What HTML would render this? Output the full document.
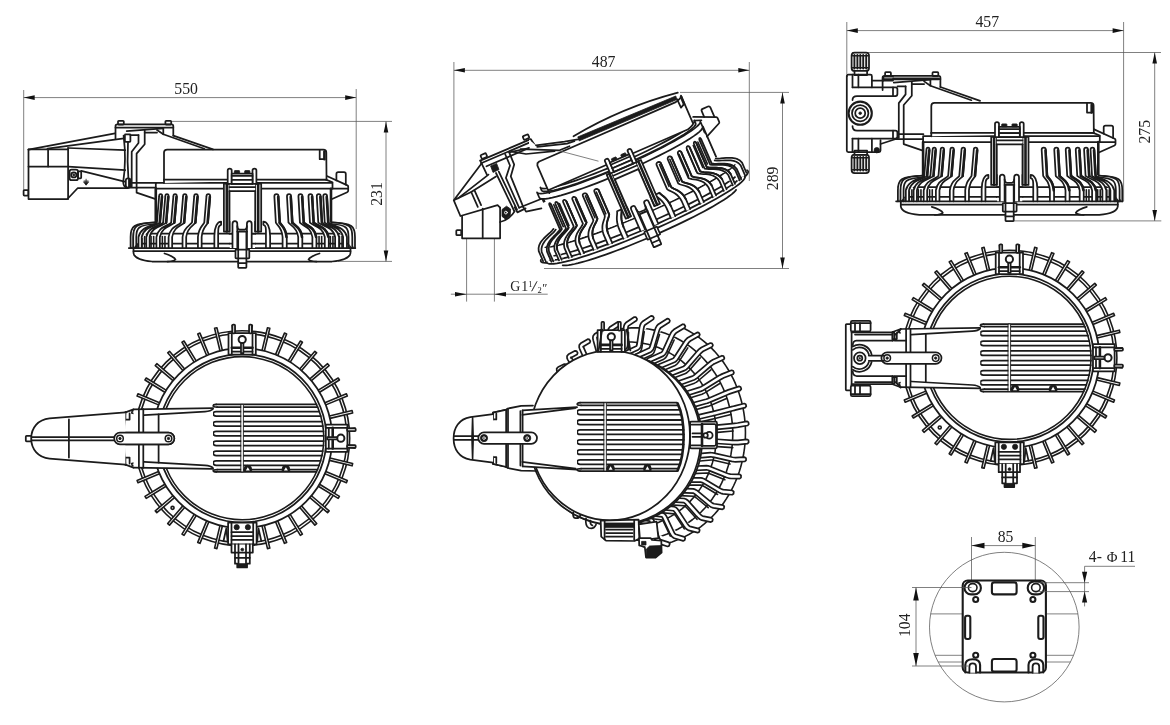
<!DOCTYPE html>
<html><head><meta charset="utf-8"><title>Dimensions</title>
<style>
html,body{margin:0;padding:0;background:#fff;}
body{width:1170px;height:725px;overflow:hidden;font-family:"Liberation Serif",serif;}
svg{display:block;will-change:transform}
.m{stroke:#1b1b1b;stroke-width:1.75;fill:none;stroke-linecap:round;stroke-linejoin:round}
.w{stroke:#1b1b1b;stroke-width:1.75;fill:#fff;stroke-linecap:round;stroke-linejoin:round}
.k{stroke:#1b1b1b;stroke-width:2.6;fill:none;stroke-linecap:round;stroke-linejoin:round}
.b{stroke:#1b1b1b;stroke-width:0.8;fill:#1b1b1b}
.t{stroke:#555;stroke-width:0.75;fill:none}
.s{stroke:#1b1b1b;stroke-width:1.6;fill:none;stroke-linecap:round;stroke-linejoin:round}
.sw{stroke:#1b1b1b;stroke-width:1.6;fill:#fff;stroke-linecap:round;stroke-linejoin:round}
text{font-family:"Liberation Serif",serif;fill:#222}
</style></head><body>
<svg width="1170" height="725" viewBox="0 0 1170 725">
<rect x="0" y="0" width="1170" height="725" fill="#fff"/>
<path class="t" d="M23.7,90 L23.7,191"/>
<path class="t" d="M356.2,89 L356.2,229"/>
<path class="t" d="M23.7,97.6 L356.2,97.6"/>
<path d="M23.7,97.6 L34.7,95.3 L34.7,99.9 Z" fill="#111" stroke="none"/>
<path d="M356.2,97.6 L345.2,99.9 L345.2,95.3 Z" fill="#111" stroke="none"/>
<text transform="translate(186.14 94) scale(0.95 1)" font-size="16.6" text-anchor="middle" fill="#3d3d3d">550</text>
<path class="t" d="M171,121.4 L392,121.4"/>
<path class="t" d="M338,261.4 L392,261.4"/>
<path class="t" d="M386,121.4 L386,261.5"/>
<path d="M386,121.4 L388.3,132.4 L383.7,132.4 Z" fill="#111" stroke="none"/>
<path d="M386,261.5 L383.7,250.5 L388.3,250.5 Z" fill="#111" stroke="none"/>
<text transform="translate(382.2 193.97) rotate(-90) scale(0.95 1)" font-size="16.6" text-anchor="middle" fill="#3d3d3d">231</text>
<path class="w" d="M133.5,248 V253 C134,257 140,260.5 152,261.5 H332 C344,260.5 350,257 350.5,253 V248" />
<path class="m" d="M133.5,251.2 L350.5,251.2"/>
<path class="m" d="M164.5,253.5 C170,255 175,258 175.5,259.5 C174,261 170,261.5 167.5,261.5" />
<path class="m" d="M319.5,253.5 C314,255 309,258 308.5,259.5 C310,261 314,261.5 316.5,261.5" />
<rect class="w" x="131" y="233.7" width="222.6" height="14.6" rx="0" style="stroke:none" />
<path class="m" d="M131,233.7 L353.6,233.7"/>
<path class="m" d="M134,243.6 L352,243.6"/>
<path class="s" d="M131.26,236.5 L131.26,248"/>
<path class="s" d="M133.86,236.5 L133.86,248"/>
<path class="s" d="M350.14,236.5 L350.14,248"/>
<path class="s" d="M352.74,236.5 L352.74,248"/>
<path class="s" d="M135.32,236.5 L135.32,248"/>
<path class="s" d="M137.92,236.5 L137.92,248"/>
<path class="s" d="M346.08,236.5 L346.08,248"/>
<path class="s" d="M348.68,236.5 L348.68,248"/>
<path class="s" d="M141.98,236.5 L141.98,248"/>
<path class="s" d="M144.58,236.5 L144.58,248"/>
<path class="s" d="M339.42,236.5 L339.42,248"/>
<path class="s" d="M342.02,236.5 L342.02,248"/>
<path class="s" d="M151.06,236.5 L151.06,248"/>
<path class="s" d="M153.66,236.5 L153.66,248"/>
<path class="s" d="M330.34,236.5 L330.34,248"/>
<path class="s" d="M332.94,236.5 L332.94,248"/>
<path class="s" d="M162.35,236.5 L162.35,248"/>
<path class="s" d="M164.95,236.5 L164.95,248"/>
<path class="s" d="M319.05,236.5 L319.05,248"/>
<path class="s" d="M321.65,236.5 L321.65,248"/>
<path class="w" d="M130.6,248 V237 C130.6,226.7 132.66,222.9 156.3,222.3" />
<path class="m" d="M133.48,248 V237 C133.48,228.4 135.3,224.6 156.3,224" />
<path class="w" d="M354.98,248 V237 C354.98,226.7 353.06,222.9 331,222.3" />
<path class="m" d="M351.33,248 V237 C351.33,228.4 349.71,224.6 331,224" />
<path class="w" d="M133.23,248 V237 C133.23,226.7 135.08,222.9 156.3,222.3" />
<path class="m" d="M136.26,248 V237 C136.26,228.4 137.87,224.6 156.3,224" />
<path class="w" d="M352.29,248 V237 C352.29,226.7 350.59,222.9 331,222.3" />
<path class="m" d="M348.55,248 V237 C348.55,228.4 347.15,224.6 331,224" />
<rect class="w" x="156.3" y="188.7" width="174.5" height="33.5" rx="0" style="stroke:none" />
<path class="w" d="M138.5,248 L138.5,237 C140.56,226.8 152.2,226.2 156.91,222.6 L159.11,196.4 Q159.11,194.2 160.7,194.2 Q162.29,194.2 162.29,196.4 L160.09,222.6 C155.38,226.2 143.75,226.8 141.69,237 L141.69,248" />
<path class="k" d="M161.94,196.9 L159.74,222.6" />
<path class="w" d="M343.1,248 L343.1,237 C341.11,226.8 329.4,226.2 324.73,222.6 L323.23,196.4 Q323.23,194.2 325.15,194.2 Q327.06,194.2 327.06,196.4 L328.56,222.6 C333.23,226.2 344.94,226.8 346.93,237 L346.93,248" />
<path class="k" d="M326.71,196.9 L328.21,222.6" />
<path class="w" d="M146.29,248 L146.29,237 C148.19,226.8 158.79,226.2 163.11,222.6 L165.31,196.4 Q165.31,194.2 166.97,194.2 Q168.63,194.2 168.63,196.4 L166.43,222.6 C162.12,226.2 151.52,226.8 149.62,237 L149.62,248" />
<path class="k" d="M168.28,196.9 L166.08,222.6" />
<path class="w" d="M335.11,248 L335.11,237 C333.28,226.8 322.56,226.2 318.28,222.6 L316.78,196.4 Q316.78,194.2 318.74,194.2 Q320.69,194.2 320.69,196.4 L322.19,222.6 C326.48,226.2 337.19,226.8 339.03,237 L339.03,248" />
<path class="k" d="M320.34,196.9 L321.84,222.6" />
<path class="w" d="M156.4,248 L156.4,237 C158.1,226.8 167.36,226.2 171.16,222.6 L173.36,196.4 Q173.36,194.2 175.08,194.2 Q176.81,194.2 176.81,196.4 L174.61,222.6 C170.81,226.2 161.55,226.8 159.85,237 L159.85,248" />
<path class="k" d="M176.46,196.9 L174.26,222.6" />
<path class="w" d="M324.79,248 L324.79,237 C323.16,226.8 313.73,226.2 309.94,222.6 L308.44,196.4 Q308.44,194.2 310.44,194.2 Q312.43,194.2 312.43,196.4 L313.93,222.6 C317.72,226.2 327.15,226.8 328.78,237 L328.78,248" />
<path class="k" d="M312.08,196.9 L313.58,222.6" />
<path class="k" d="M313.63,222.6 C317.42,226.2 326.85,226.8 328.48,237" />
<path class="w" d="M168.59,248 L168.59,237 C170.03,226.8 177.69,226.2 180.87,222.6 L183.07,196.4 Q183.07,194.2 184.85,194.2 Q186.63,194.2 186.63,196.4 L184.43,222.6 C181.25,226.2 173.59,226.8 172.15,237 L172.15,248" />
<path class="k" d="M186.28,196.9 L184.08,222.6" />
<path class="w" d="M312.39,248 L312.39,237 C310.99,226.8 303.11,226.2 299.92,222.6 L298.42,196.4 Q298.42,194.2 300.45,194.2 Q302.48,194.2 302.48,196.4 L303.98,222.6 C307.17,226.2 315.05,226.8 316.44,237 L316.44,248" />
<path class="k" d="M302.13,196.9 L303.63,222.6" />
<path class="k" d="M303.68,222.6 C306.87,226.2 314.75,226.8 316.14,237" />
<path class="w" d="M182.54,248 L182.54,237 C183.71,226.8 189.52,226.2 191.99,222.6 L194.19,196.4 Q194.19,194.2 196.02,194.2 Q197.85,194.2 197.85,196.4 L195.65,222.6 C193.17,226.2 187.36,226.8 186.19,237 L186.19,248" />
<path class="k" d="M197.5,196.9 L195.3,222.6" />
<path class="w" d="M298.2,248 L298.2,237 C297.08,226.8 290.98,226.2 288.47,222.6 L286.97,196.4 Q286.97,194.2 289.02,194.2 Q291.08,194.2 291.08,196.4 L292.58,222.6 C295.09,226.2 301.19,226.8 302.31,237 L302.31,248" />
<path class="k" d="M290.73,196.9 L292.23,222.6" />
<path class="k" d="M292.28,222.6 C294.79,226.2 300.89,226.8 302.01,237" />
<path class="w" d="M197.93,248 L197.93,237 C198.78,226.8 202.57,226.2 204.26,222.6 L206.46,196.4 Q206.46,194.2 208.32,194.2 Q210.19,194.2 210.19,196.4 L207.99,222.6 C206.29,226.2 202.51,226.8 201.65,237 L201.65,248" />
<path class="k" d="M209.84,196.9 L207.64,222.6" />
<path class="w" d="M282.59,248 L282.59,237 C281.77,226.8 277.62,226.2 275.86,222.6 L274.36,196.4 Q274.36,194.2 276.44,194.2 Q278.52,194.2 278.52,196.4 L280.02,222.6 C281.78,226.2 285.92,226.8 286.75,237 L286.75,248" />
<path class="k" d="M278.17,196.9 L279.67,222.6" />
<path class="k" d="M279.72,222.6 C281.48,226.2 285.62,226.8 286.45,237" />
<path class="w" d="M214.36,248 V236 C214.36,227 217.36,221.6 221.11,221.6 V224.8 C218.11,225.4 218.14,229 218.14,236 V248" />
<path class="w" d="M270.12,248 V236 C270.12,227 267.12,221.6 263.36,221.6 V224.8 C266.36,225.4 265.94,229 265.94,236 V248" />
<path class="m" d="M128.8,248 L355.3,248"/>
<path class="m" d="M155.8,220 V182.8 H332.5 V188.7" />
<path class="m" d="M164,179.6 L326,179.6"/>
<path class="m" d="M156.3,188.7 L347.4,188.7"/>
<path class="k" d="M331,188.7 V221" />
<path class="k" d="M155.8,188.7 V221.6" />
<path class="m" d="M326.3,175.8 L347.4,185.4 Q348.2,185.8 348.2,186.8 V190.8 Q348.2,191.8 347.2,192.2 L331,199.5" />
<path class="m" d="M336.4,180.4 V174 Q336.4,172.2 338.2,172.2 H344 Q345.8,172.2 345.8,174 V184.6" />
<path class="m" d="M325.9,179.6 L332.5,182.2" />
<path class="w" d="M164,183 V152.6 Q164,149.5 167.2,149.5 H323.4 Q326.3,149.5 326.3,152.4 L326.5,175.8 V179.6" />
<path class="m" d="M319.7,149.8 V159.2 H324.4" />
<path class="k" d="M324.4,151.5 V159.2" />
<path class="m" d="M164,179.6 L326.4,179.6"/>
<rect class="w" x="223.9" y="183.6" width="5.6" height="48" rx="0" />
<rect class="w" x="255.2" y="183.6" width="6" height="48" rx="0" />
<path class="k" d="M226.8,184 V231.4" />
<path class="k" d="M258.2,184 V231.4" />
<rect class="w" x="229.5" y="183" width="25.7" height="38" rx="0" style="stroke:none" />
<path class="m" d="M229.5,187 L255.2,187"/>
<path class="m" d="M229.5,191 L255.2,191"/>
<path class="m" d="M229.5,191 L229.5,231.4"/>
<path class="m" d="M255.2,191 L255.2,231.4"/>
<path class="w" d="M227.7,183.8 V170.4 Q227.7,168.7 229.7,168.7 Q231.7,168.7 231.7,170.4 V183.8" />
<path class="w" d="M252.5,183.8 V170.4 Q252.5,168.7 254.5,168.7 Q256.4,168.7 256.4,170.4 V183.8" />
<rect class="w" x="231.7" y="173.5" width="20.8" height="6.3" rx="0" />
<rect class="w" x="231.7" y="179.8" width="20.8" height="4" rx="0" />
<path class="m" d="M231.7,175.9 L252.5,175.9"/>
<rect class="b" x="234.4" y="170.6" width="5.2" height="2.9" rx="0.5" />
<rect class="b" x="244.7" y="170.6" width="5.2" height="2.9" rx="0.5" />
<path class="m" d="M227.7,183.8 L256.4,183.8"/>
<rect class="w" x="229.8" y="233.7" width="25.2" height="14.3" rx="0" style="stroke:none" />
<path class="m" d="M229.5,233.8 L255.2,233.8"/>
<path class="m" d="M229.5,243.6 L255.2,243.6"/>
<path class="w" d="M232.5,247.5 V224 Q232.5,221.2 234.9,221.2 Q237.3,221.2 237.3,224 V247.5" />
<path class="w" d="M246.9,247.5 V224 Q246.9,221.2 249.3,221.2 Q251.7,221.2 251.7,224 V247.5" />
<path class="m" d="M237.3,226 Q237.5,229.4 239.5,229.6 H244.7 Q246.7,229.4 246.9,226" />
<path class="m" d="M237.3,231.6 H247" />
<rect class="w" x="238.2" y="231.6" width="8.2" height="36.2" rx="0.6" />
<rect class="w" x="235.5" y="249.7" width="13.8" height="8.6" rx="0.6" />
<path class="m" d="M238.2,249.7 L238.2,258.3"/>
<path class="m" d="M246.4,249.7 L246.4,258.3"/>
<path class="m" d="M238.2,263 L246.4,263"/>
<path class="m" d="M28.5,149.6 V199 H67.4 L77.8,188 H128" />
<path class="m" d="M28.5,149.6 L115,133.4" />
<path class="m" d="M47.5,148.6 L124,138.4" />
<path class="m" d="M28.5,149.4 H68.1" />
<path class="m" d="M68.1,148 L125.2,150.2" />
<path class="m" d="M48.1,149.4 L48.1,166.6"/>
<path class="m" d="M68.1,148 L68.1,199"/>
<path class="m" d="M28.5,166.6 H68.1 L125.2,170.2" />
<path class="m" d="M81.2,170.9 L124.6,181.6" />
<rect class="w" x="23.6" y="190" width="4.6" height="5.6" rx="0.8" />
<rect class="m" x="69.6" y="169.6" width="8.4" height="10.6" rx="2" />
<rect class="m" x="78" y="171.4" width="3.2" height="7" rx="0.8" />
<circle class="m" cx="73.8" cy="174.9" r="2.6" />
<circle class="b" cx="73.8" cy="174.9" r="1" />
<path class="m" d="M86.1,179.2 V184.4 M83.8,182.2 L86.1,185.2 L88.4,182.2 Z M84,181 H88.2" style="fill:#1b1b1b;stroke-width:0.8" />
<rect class="w" x="118" y="120.8" width="5.8" height="3.8" rx="0.8" />
<rect class="w" x="165.4" y="120.8" width="5.8" height="3.8" rx="0.8" />
<path class="m" d="M115.5,138.6 V126.2 Q115.5,124.4 117.3,124.4 H171.5 Q173.3,124.4 173.3,126.2 V135.6" />
<path class="m" d="M115.5,127.6 L173.3,127.6"/>
<path class="m" d="M126.7,131.2 L163.3,128.3" />
<path class="m" d="M157,130 L163.3,134.3" />
<path class="m" d="M163.3,128.3 V134.3 L204.3,148.8" />
<path class="m" d="M173.3,135.6 L213,149.4" />
<rect class="m" x="124.9" y="134.3" width="5.5" height="7.5" rx="0.6" />
<path class="m" d="M123.6,135.6 Q126.6,160 123.2,182 Q123.4,186.6 126.4,187.6" />
<path class="m" d="M128,141.8 L127.6,161.6 L128.4,178.4" />
<rect class="m" x="125.8" y="178.4" width="4.6" height="9.2" rx="2.2" />
<path class="k" d="M129.4,179.6 V186.6" />
<path class="m" d="M138.5,135 V143 L131.7,151.7 V186.5" />
<path class="m" d="M144.7,130.6 V144.3 L136.6,153.6 V188" />
<path class="m" d="M130.4,135 H138.5" />
<path class="m" d="M144.7,132.6 H157" />
<path class="m" d="M131.7,182.8 H156.3" />
<path class="m" d="M128,187.7 H155.6" />
<path class="m" d="M136.6,188 V192.7 L155,198.9" />
<path class="t" d="M846.8,22 L846.8,74"/>
<path class="t" d="M1123.6,22 L1123.6,201"/>
<path class="t" d="M846.8,30.6 L1123.6,30.6"/>
<path d="M846.8,30.6 L857.8,28.3 L857.8,32.9 Z" fill="#111" stroke="none"/>
<path d="M1123.6,30.6 L1112.6,32.9 L1112.6,28.3 Z" fill="#111" stroke="none"/>
<text transform="translate(987.27 26.5) scale(0.95 1)" font-size="16.6" text-anchor="middle" fill="#3d3d3d">457</text>
<path class="t" d="M852,52.5 L1161,52.5"/>
<path class="t" d="M1013,220.9 L1161.3,220.9"/>
<path class="t" d="M1154.7,52.5 L1154.7,220.9"/>
<path d="M1154.7,52.5 L1157,63.5 L1152.4,63.5 Z" fill="#111" stroke="none"/>
<path d="M1154.7,220.9 L1152.4,209.9 L1157,209.9 Z" fill="#111" stroke="none"/>
<text transform="translate(1150.1 131.74) rotate(-90) scale(0.95 1)" font-size="16.6" text-anchor="middle" fill="#3d3d3d">275</text>
<g transform="translate(767.3 -46.7)">
<path class="w" d="M133.5,248 V253 C134,257 140,260.5 152,261.5 H332 C344,260.5 350,257 350.5,253 V248" />
<path class="m" d="M133.5,251.2 L350.5,251.2"/>
<path class="m" d="M164.5,253.5 C170,255 175,258 175.5,259.5 C174,261 170,261.5 167.5,261.5" />
<path class="m" d="M319.5,253.5 C314,255 309,258 308.5,259.5 C310,261 314,261.5 316.5,261.5" />
<rect class="w" x="131" y="233.7" width="222.6" height="14.6" rx="0" style="stroke:none" />
<path class="m" d="M131,233.7 L353.6,233.7"/>
<path class="m" d="M134,243.6 L352,243.6"/>
<path class="s" d="M131.26,236.5 L131.26,248"/>
<path class="s" d="M133.86,236.5 L133.86,248"/>
<path class="s" d="M350.14,236.5 L350.14,248"/>
<path class="s" d="M352.74,236.5 L352.74,248"/>
<path class="s" d="M135.32,236.5 L135.32,248"/>
<path class="s" d="M137.92,236.5 L137.92,248"/>
<path class="s" d="M346.08,236.5 L346.08,248"/>
<path class="s" d="M348.68,236.5 L348.68,248"/>
<path class="s" d="M141.98,236.5 L141.98,248"/>
<path class="s" d="M144.58,236.5 L144.58,248"/>
<path class="s" d="M339.42,236.5 L339.42,248"/>
<path class="s" d="M342.02,236.5 L342.02,248"/>
<path class="s" d="M151.06,236.5 L151.06,248"/>
<path class="s" d="M153.66,236.5 L153.66,248"/>
<path class="s" d="M330.34,236.5 L330.34,248"/>
<path class="s" d="M332.94,236.5 L332.94,248"/>
<path class="s" d="M162.35,236.5 L162.35,248"/>
<path class="s" d="M164.95,236.5 L164.95,248"/>
<path class="s" d="M319.05,236.5 L319.05,248"/>
<path class="s" d="M321.65,236.5 L321.65,248"/>
<path class="w" d="M130.6,248 V237 C130.6,226.7 132.66,222.9 156.3,222.3" />
<path class="m" d="M133.48,248 V237 C133.48,228.4 135.3,224.6 156.3,224" />
<path class="w" d="M354.98,248 V237 C354.98,226.7 353.06,222.9 331,222.3" />
<path class="m" d="M351.33,248 V237 C351.33,228.4 349.71,224.6 331,224" />
<path class="w" d="M133.23,248 V237 C133.23,226.7 135.08,222.9 156.3,222.3" />
<path class="m" d="M136.26,248 V237 C136.26,228.4 137.87,224.6 156.3,224" />
<path class="w" d="M352.29,248 V237 C352.29,226.7 350.59,222.9 331,222.3" />
<path class="m" d="M348.55,248 V237 C348.55,228.4 347.15,224.6 331,224" />
<rect class="w" x="156.3" y="188.7" width="174.5" height="33.5" rx="0" style="stroke:none" />
<path class="w" d="M138.5,248 L138.5,237 C140.56,226.8 152.2,226.2 156.91,222.6 L159.11,196.4 Q159.11,194.2 160.7,194.2 Q162.29,194.2 162.29,196.4 L160.09,222.6 C155.38,226.2 143.75,226.8 141.69,237 L141.69,248" />
<path class="k" d="M161.94,196.9 L159.74,222.6" />
<path class="w" d="M343.1,248 L343.1,237 C341.11,226.8 329.4,226.2 324.73,222.6 L323.23,196.4 Q323.23,194.2 325.15,194.2 Q327.06,194.2 327.06,196.4 L328.56,222.6 C333.23,226.2 344.94,226.8 346.93,237 L346.93,248" />
<path class="k" d="M326.71,196.9 L328.21,222.6" />
<path class="w" d="M146.29,248 L146.29,237 C148.19,226.8 158.79,226.2 163.11,222.6 L165.31,196.4 Q165.31,194.2 166.97,194.2 Q168.63,194.2 168.63,196.4 L166.43,222.6 C162.12,226.2 151.52,226.8 149.62,237 L149.62,248" />
<path class="k" d="M168.28,196.9 L166.08,222.6" />
<path class="w" d="M335.11,248 L335.11,237 C333.28,226.8 322.56,226.2 318.28,222.6 L316.78,196.4 Q316.78,194.2 318.74,194.2 Q320.69,194.2 320.69,196.4 L322.19,222.6 C326.48,226.2 337.19,226.8 339.03,237 L339.03,248" />
<path class="k" d="M320.34,196.9 L321.84,222.6" />
<path class="w" d="M156.4,248 L156.4,237 C158.1,226.8 167.36,226.2 171.16,222.6 L173.36,196.4 Q173.36,194.2 175.08,194.2 Q176.81,194.2 176.81,196.4 L174.61,222.6 C170.81,226.2 161.55,226.8 159.85,237 L159.85,248" />
<path class="k" d="M176.46,196.9 L174.26,222.6" />
<path class="w" d="M324.79,248 L324.79,237 C323.16,226.8 313.73,226.2 309.94,222.6 L308.44,196.4 Q308.44,194.2 310.44,194.2 Q312.43,194.2 312.43,196.4 L313.93,222.6 C317.72,226.2 327.15,226.8 328.78,237 L328.78,248" />
<path class="k" d="M312.08,196.9 L313.58,222.6" />
<path class="k" d="M313.63,222.6 C317.42,226.2 326.85,226.8 328.48,237" />
<path class="w" d="M168.59,248 L168.59,237 C170.03,226.8 177.69,226.2 180.87,222.6 L183.07,196.4 Q183.07,194.2 184.85,194.2 Q186.63,194.2 186.63,196.4 L184.43,222.6 C181.25,226.2 173.59,226.8 172.15,237 L172.15,248" />
<path class="k" d="M186.28,196.9 L184.08,222.6" />
<path class="w" d="M312.39,248 L312.39,237 C310.99,226.8 303.11,226.2 299.92,222.6 L298.42,196.4 Q298.42,194.2 300.45,194.2 Q302.48,194.2 302.48,196.4 L303.98,222.6 C307.17,226.2 315.05,226.8 316.44,237 L316.44,248" />
<path class="k" d="M302.13,196.9 L303.63,222.6" />
<path class="k" d="M303.68,222.6 C306.87,226.2 314.75,226.8 316.14,237" />
<path class="w" d="M182.54,248 L182.54,237 C183.71,226.8 189.52,226.2 191.99,222.6 L194.19,196.4 Q194.19,194.2 196.02,194.2 Q197.85,194.2 197.85,196.4 L195.65,222.6 C193.17,226.2 187.36,226.8 186.19,237 L186.19,248" />
<path class="k" d="M197.5,196.9 L195.3,222.6" />
<path class="w" d="M298.2,248 L298.2,237 C297.08,226.8 290.98,226.2 288.47,222.6 L286.97,196.4 Q286.97,194.2 289.02,194.2 Q291.08,194.2 291.08,196.4 L292.58,222.6 C295.09,226.2 301.19,226.8 302.31,237 L302.31,248" />
<path class="k" d="M290.73,196.9 L292.23,222.6" />
<path class="k" d="M292.28,222.6 C294.79,226.2 300.89,226.8 302.01,237" />
<path class="w" d="M197.93,248 L197.93,237 C198.78,226.8 202.57,226.2 204.26,222.6 L206.46,196.4 Q206.46,194.2 208.32,194.2 Q210.19,194.2 210.19,196.4 L207.99,222.6 C206.29,226.2 202.51,226.8 201.65,237 L201.65,248" />
<path class="k" d="M209.84,196.9 L207.64,222.6" />
<path class="w" d="M282.59,248 L282.59,237 C281.77,226.8 277.62,226.2 275.86,222.6 L274.36,196.4 Q274.36,194.2 276.44,194.2 Q278.52,194.2 278.52,196.4 L280.02,222.6 C281.78,226.2 285.92,226.8 286.75,237 L286.75,248" />
<path class="k" d="M278.17,196.9 L279.67,222.6" />
<path class="k" d="M279.72,222.6 C281.48,226.2 285.62,226.8 286.45,237" />
<path class="w" d="M214.36,248 V236 C214.36,227 217.36,221.6 221.11,221.6 V224.8 C218.11,225.4 218.14,229 218.14,236 V248" />
<path class="w" d="M270.12,248 V236 C270.12,227 267.12,221.6 263.36,221.6 V224.8 C266.36,225.4 265.94,229 265.94,236 V248" />
<path class="m" d="M128.8,248 L355.3,248"/>
<path class="m" d="M155.8,220 V182.8 H332.5 V188.7" />
<path class="m" d="M164,179.6 L326,179.6"/>
<path class="m" d="M156.3,188.7 L347.4,188.7"/>
<path class="k" d="M331,188.7 V221" />
<path class="k" d="M155.8,188.7 V221.6" />
<path class="m" d="M326.3,175.8 L347.4,185.4 Q348.2,185.8 348.2,186.8 V190.8 Q348.2,191.8 347.2,192.2 L331,199.5" />
<path class="m" d="M336.4,180.4 V174 Q336.4,172.2 338.2,172.2 H344 Q345.8,172.2 345.8,174 V184.6" />
<path class="m" d="M325.9,179.6 L332.5,182.2" />
<path class="w" d="M164,183 V152.6 Q164,149.5 167.2,149.5 H323.4 Q326.3,149.5 326.3,152.4 L326.5,175.8 V179.6" />
<path class="m" d="M319.7,149.8 V159.2 H324.4" />
<path class="k" d="M324.4,151.5 V159.2" />
<path class="m" d="M164,179.6 L326.4,179.6"/>
<rect class="w" x="223.9" y="183.6" width="5.6" height="48" rx="0" />
<rect class="w" x="255.2" y="183.6" width="6" height="48" rx="0" />
<path class="k" d="M226.8,184 V231.4" />
<path class="k" d="M258.2,184 V231.4" />
<rect class="w" x="229.5" y="183" width="25.7" height="38" rx="0" style="stroke:none" />
<path class="m" d="M229.5,187 L255.2,187"/>
<path class="m" d="M229.5,191 L255.2,191"/>
<path class="m" d="M229.5,191 L229.5,231.4"/>
<path class="m" d="M255.2,191 L255.2,231.4"/>
<path class="w" d="M227.7,183.8 V170.4 Q227.7,168.7 229.7,168.7 Q231.7,168.7 231.7,170.4 V183.8" />
<path class="w" d="M252.5,183.8 V170.4 Q252.5,168.7 254.5,168.7 Q256.4,168.7 256.4,170.4 V183.8" />
<rect class="w" x="231.7" y="173.5" width="20.8" height="6.3" rx="0" />
<rect class="w" x="231.7" y="179.8" width="20.8" height="4" rx="0" />
<path class="m" d="M231.7,175.9 L252.5,175.9"/>
<rect class="b" x="234.4" y="170.6" width="5.2" height="2.9" rx="0.5" />
<rect class="b" x="244.7" y="170.6" width="5.2" height="2.9" rx="0.5" />
<path class="m" d="M227.7,183.8 L256.4,183.8"/>
<rect class="w" x="229.8" y="233.7" width="25.2" height="14.3" rx="0" style="stroke:none" />
<path class="m" d="M229.5,233.8 L255.2,233.8"/>
<path class="m" d="M229.5,243.6 L255.2,243.6"/>
<path class="w" d="M232.5,247.5 V224 Q232.5,221.2 234.9,221.2 Q237.3,221.2 237.3,224 V247.5" />
<path class="w" d="M246.9,247.5 V224 Q246.9,221.2 249.3,221.2 Q251.7,221.2 251.7,224 V247.5" />
<path class="m" d="M237.3,226 Q237.5,229.4 239.5,229.6 H244.7 Q246.7,229.4 246.9,226" />
<path class="m" d="M237.3,231.6 H247" />
<rect class="w" x="238.2" y="231.6" width="8.2" height="36.2" rx="0.6" />
<rect class="w" x="235.5" y="249.7" width="13.8" height="8.6" rx="0.6" />
<path class="m" d="M238.2,249.7 L238.2,258.3"/>
<path class="m" d="M246.4,249.7 L246.4,258.3"/>
<path class="m" d="M238.2,263 L246.4,263"/>
</g>
<g transform="translate(767.1 -48.6)">
<rect class="w" x="118" y="120.8" width="5.8" height="3.8" rx="0.8" />
<rect class="w" x="165.4" y="120.8" width="5.8" height="3.8" rx="0.8" />
<path class="m" d="M115.5,138.6 V126.2 Q115.5,124.4 117.3,124.4 H171.5 Q173.3,124.4 173.3,126.2 V135.6" />
<path class="m" d="M115.5,127.6 L173.3,127.6"/>
<path class="m" d="M126.7,131.2 L163.3,128.3" />
<path class="m" d="M157,130 L163.3,134.3" />
<path class="m" d="M163.3,128.3 V134.3 L204.3,148.8" />
<path class="m" d="M173.3,135.6 L213,149.4" />
<path class="m" d="M138.5,135 V143 L131.7,151.7 V186.5" />
<path class="m" d="M144.7,130.6 V144.3 L136.6,153.6 V188" />
<path class="m" d="M130.4,135 H138.5" />
<path class="m" d="M144.7,132.6 H157" />
<path class="m" d="M131.7,182.8 H156.3" />
<path class="m" d="M128,187.7 H155.6" />
<path class="m" d="M136.6,188 V192.7 L155,198.9" />
</g>
<path class="k" d="M893.5,78.9 H938.5" />
<rect class="w" x="851.6" y="52.5" width="17.4" height="18.4" rx="3" />
<path class="k" d="M854.4,54.9 V68.5" style="stroke-width:1.9" />
<path class="k" d="M857.4,54.9 V68.5" style="stroke-width:1.9" />
<path class="k" d="M860.3,54.9 V68.5" style="stroke-width:1.9" />
<path class="k" d="M863.2,54.9 V68.5" style="stroke-width:1.9" />
<path class="k" d="M866.2,54.9 V68.5" style="stroke-width:1.9" />
<path class="s" d="M852.6,55.7 H868" />
<path class="s" d="M852.6,67.7 H868" />
<rect class="w" x="851.6" y="154.6" width="17.4" height="18.4" rx="3" />
<path class="k" d="M854.4,157 V170.6" style="stroke-width:1.9" />
<path class="k" d="M857.4,157 V170.6" style="stroke-width:1.9" />
<path class="k" d="M860.3,157 V170.6" style="stroke-width:1.9" />
<path class="k" d="M863.2,157 V170.6" style="stroke-width:1.9" />
<path class="k" d="M866.2,157 V170.6" style="stroke-width:1.9" />
<path class="s" d="M852.6,157.8 H868" />
<path class="s" d="M852.6,169.8 H868" />
<rect class="w" x="854.5" y="70.9" width="12.6" height="4.2" rx="0" />
<rect class="w" x="854.5" y="150.6" width="12.6" height="4.2" rx="0" />
<path class="m" d="M846.8,76.2 Q846.8,74.7 848.3,74.7 H870.4 Q871.9,74.7 871.9,76.2 V80.5 H883.4 V76.7 H893" />
<path class="m" d="M846.8,76.2 V150.6 Q846.8,152 848.3,152 H879 Q880.5,152 880.5,150.6 V140" />
<path class="m" d="M852.5,74.7 L852.5,87.3"/>
<path class="m" d="M858.4,74.7 L858.4,87.3"/>
<path class="m" d="M871.9,80.5 L871.9,87.3"/>
<path class="m" d="M852.5,138.5 L852.5,152"/>
<path class="m" d="M858.4,138.5 L858.4,152"/>
<path class="m" d="M871.9,138.5 L871.9,152"/>
<path class="m" d="M852.5,87.3 H895.4 Q897.4,87.3 897.4,89.3 V94 Q897.4,96 895.4,96 H857 Q852.5,96 852.5,100" />
<path class="m" d="M893,87.3 V96" />
<path class="m" d="M852.5,126 Q852.5,130.7 857,130.7 H895.4 Q897.4,130.7 897.4,132.7 V136.5 Q897.4,138.5 895.4,138.5 H852.5" />
<path class="m" d="M893,130.7 V138.5" />
<circle class="w" cx="860.2" cy="113.2" r="11.6" style="stroke-width:2.1" />
<circle class="m" cx="860.2" cy="113.2" r="8.2" />
<circle class="m" cx="860.2" cy="113.2" r="5" />
<circle class="b" cx="860.2" cy="113.2" r="1.3" />
<circle class="b" cx="876.8" cy="150.2" r="2.7" />
<path class="m" d="M880.5,144 L897.4,138.5"/>
<path class="m" d="M883.4,80.5 L893,80.5"/>
<circle class="s" cx="242.2" cy="438.2" r="107.5" />
<circle class="s" cx="242.2" cy="438.2" r="104.7" />
<path class="sw" d="M250.46,348.57 L252.29,325.34 L249.89,325.16 L248.07,348.38" />
<path class="sw" d="M264.38,350.97 L269.82,328.31 L267.48,327.75 L262.04,350.41" />
<path class="sw" d="M277.75,355.51 L286.67,333.98 L284.45,333.07 L275.53,354.59" />
<path class="sw" d="M290.25,362.09 L302.42,342.22 L300.38,340.97 L288.2,360.84" />
<path class="sw" d="M301.56,370.54 L316.69,352.83 L314.87,351.27 L299.74,368.98" />
<path class="sw" d="M311.42,380.66 L329.13,365.53 L327.57,363.71 L309.86,378.84" />
<path class="sw" d="M319.56,392.2 L339.43,380.02 L338.18,377.98 L318.31,390.15" />
<path class="sw" d="M325.81,404.87 L347.33,395.95 L346.42,393.73 L324.89,402.65" />
<path class="sw" d="M329.99,418.36 L352.65,412.92 L352.09,410.58 L329.43,416.02" />
<path class="sw" d="M332.02,432.33 L355.24,430.51 L355.06,428.11 L331.83,429.94" />
<path class="sw" d="M331.83,446.46 L355.06,448.29 L355.24,445.89 L332.02,444.07" />
<path class="sw" d="M329.43,460.38 L352.09,465.82 L352.65,463.48 L329.99,458.04" />
<path class="sw" d="M324.89,473.75 L346.42,482.67 L347.33,480.45 L325.81,471.53" />
<path class="sw" d="M318.31,486.25 L338.18,498.42 L339.43,496.38 L319.56,484.2" />
<path class="sw" d="M309.86,497.56 L327.57,512.69 L329.13,510.87 L311.42,495.74" />
<path class="sw" d="M299.74,507.42 L314.87,525.13 L316.69,523.57 L301.56,505.86" />
<path class="sw" d="M288.2,515.56 L300.38,535.43 L302.42,534.18 L290.25,514.31" />
<path class="sw" d="M275.53,521.81 L284.45,543.33 L286.67,542.42 L277.75,520.89" />
<path class="sw" d="M262.04,525.99 L267.48,548.65 L269.82,548.09 L264.38,525.43" />
<path class="sw" d="M248.07,528.02 L249.89,551.24 L252.29,551.06 L250.46,527.83" />
<path class="sw" d="M233.94,527.83 L232.11,551.06 L234.51,551.24 L236.33,528.02" />
<path class="sw" d="M220.02,525.43 L214.58,548.09 L216.92,548.65 L222.36,525.99" />
<path class="sw" d="M206.65,520.89 L197.73,542.42 L199.95,543.33 L208.87,521.81" />
<path class="sw" d="M194.15,514.31 L181.98,534.18 L184.02,535.43 L196.2,515.56" />
<path class="sw" d="M182.84,505.86 L167.71,523.57 L169.53,525.13 L184.66,507.42" />
<path class="sw" d="M172.98,495.74 L155.27,510.87 L156.83,512.69 L174.54,497.56" />
<path class="sw" d="M164.84,484.2 L144.97,496.38 L146.22,498.42 L166.09,486.25" />
<path class="sw" d="M158.59,471.53 L137.07,480.45 L137.98,482.67 L159.51,473.75" />
<path class="sw" d="M154.41,458.04 L131.75,463.48 L132.31,465.82 L154.97,460.38" />
<path class="sw" d="M154.97,416.02 L132.31,410.58 L131.75,412.92 L154.41,418.36" />
<path class="sw" d="M159.51,402.65 L137.98,393.73 L137.07,395.95 L158.59,404.87" />
<path class="sw" d="M166.09,390.15 L146.22,377.98 L144.97,380.02 L164.84,392.2" />
<path class="sw" d="M174.54,378.84 L156.83,363.71 L155.27,365.53 L172.98,380.66" />
<path class="sw" d="M184.66,368.98 L169.53,351.27 L167.71,352.83 L182.84,370.54" />
<path class="sw" d="M196.2,360.84 L184.02,340.97 L181.98,342.22 L194.15,362.09" />
<path class="sw" d="M208.87,354.59 L199.95,333.07 L197.73,333.98 L206.65,355.51" />
<path class="sw" d="M222.36,350.41 L216.92,327.75 L214.58,328.31 L220.02,350.97" />
<path class="sw" d="M236.33,348.38 L234.51,325.16 L232.11,325.34 L233.94,348.57" />
<circle class="w" cx="242.2" cy="438.2" r="90" />
<circle class="m" cx="242.2" cy="438.2" r="84.2" />
<circle class="s" cx="242.2" cy="438.2" r="81.6" />
<path class="m" d="M316.47,404.4 H216.2" />
<path class="m" d="M316.52,471.9 H216.2" />
<path class="m" d="M317.6,407 H217.2" />
<path class="m" d="M317.52,469.6 H217.2" />
<path class="m" d="M319.34,411.6 H216.2 Q213.2,411.6 213.2,413.85 Q213.2,416.1 216.2,416.1 H320.75" />
<path class="m" d="M322.07,421.5 H216.2 Q213.2,421.5 213.2,423.75 Q213.2,426 216.2,426 H322.88" />
<path class="m" d="M323.51,431.3 H216.2 Q213.2,431.3 213.2,433.55 Q213.2,435.8 216.2,435.8 H323.76" />
<path class="m" d="M323.75,441.1 H216.2 Q213.2,441.1 213.2,443.35 Q213.2,445.6 216.2,445.6 H323.46" />
<path class="m" d="M322.79,451 H216.2 Q213.2,451 213.2,453.25 Q213.2,455.5 216.2,455.5 H321.95" />
<path class="m" d="M320.61,460.8 H216.2 Q213.2,460.8 213.2,463.05 Q213.2,465.3 216.2,465.3 H319.17" />
<path class="m" d="M216.2,404.4 Q213.2,404.4 213.2,406 Q213.2,407 217.2,407" />
<path class="m" d="M216.2,471.9 Q213.2,471.9 213.2,470.5 Q213.2,469.6 217.2,469.6" />
<rect class="w" x="241.2" y="404.4" width="2.2" height="67.5" rx="0" style="stroke-width:0.9" />
<path class="b" d="M244,471.5 V469 Q244,465.3 247.8,465.3 Q251.6,465.3 251.6,469 V471.5 Z" />
<path class="m" d="M245.8,470.6 L247.8,467.2 L249.8,470.6 Z" style="fill:#fff;stroke:none" />
<path class="b" d="M282.1,471.5 V469 Q282.1,465.3 285.9,465.3 Q289.7,465.3 289.7,469 V471.5 Z" />
<path class="m" d="M283.9,470.6 L285.9,467.2 L287.9,470.6 Z" style="fill:#fff;stroke:none" />
<rect class="w" x="228.5" y="333" width="27.3" height="21.6" rx="0" />
<path class="m" d="M231.8,333 L231.8,354.6"/>
<path class="m" d="M252.5,333 L252.5,354.6"/>
<rect class="w" x="232.4" y="324.7" width="2.6" height="8.6" rx="0.8" />
<rect class="w" x="249.1" y="324.7" width="2.6" height="8.6" rx="0.8" />
<path class="k" d="M231.8,347.7 H252.5" />
<path class="m" d="M231.8,351.6 H252.5" />
<circle class="w" cx="242.2" cy="339.6" r="3.6" style="stroke-width:2" />
<rect class="w" x="241" y="343.2" width="2.4" height="10" rx="0" />
<g transform="rotate(90 242.2 438.2)">
<rect class="w" x="228.5" y="333" width="27.3" height="21.6" rx="0" />
<path class="m" d="M231.8,333 L231.8,354.6"/>
<path class="m" d="M252.5,333 L252.5,354.6"/>
<rect class="w" x="232.4" y="324.7" width="2.6" height="8.6" rx="0.8" />
<rect class="w" x="249.1" y="324.7" width="2.6" height="8.6" rx="0.8" />
<path class="k" d="M231.8,347.7 H252.5" />
<path class="m" d="M231.8,351.6 H252.5" />
<circle class="w" cx="242.2" cy="339.6" r="3.6" style="stroke-width:2" />
<rect class="w" x="241" y="343.2" width="2.4" height="10" rx="0" />
</g>
<rect class="w" x="228.1" y="522.7" width="28.5" height="21.7" rx="0" />
<path class="m" d="M231.5,522.7 L231.5,544.4"/>
<path class="m" d="M253.2,522.7 L253.2,544.4"/>
<circle class="b" cx="236.7" cy="527.2" r="2.6" />
<circle class="b" cx="247.9" cy="527.2" r="2.6" />
<path class="m" d="M231.5,532.2 L253.2,532.2"/>
<path class="m" d="M231.5,536 L253.2,536"/>
<path class="m" d="M231.5,539.8 L253.2,539.8"/>
<path class="w" d="M231.5,544.4 V552.6 H235 V563.7 H237.3 V567.4 H247 V563.7 H249.8 V552.6 H252.8 V544.4" />
<path class="m" d="M235,552.6 L249.8,552.6"/>
<path class="m" d="M235,544.4 L235,552.6"/>
<path class="m" d="M249.8,544.4 L249.8,552.6"/>
<path class="m" d="M238.5,544.4 L238.5,563.7"/>
<path class="m" d="M246,544.4 L246,563.7"/>
<circle class="b" cx="242.3" cy="549.6" r="1.4" />
<path class="m" d="M235,557.8 L249.8,557.8"/>
<rect class="b" x="237.3" y="563.7" width="9.7" height="3.7" rx="0" />
<path class="m" d="M223.5,541 L226.3,528.5 L227.6,541" />
<path class="m" d="M261.3,541 L258.5,528.5 L257.2,541" />
<circle class="s" cx="172.55" cy="507.85" r="1.5" />
<path class="w" d="M133.5,409.4 L213,408.2 V468.8 L133.5,467.6 Z" style="stroke:none" />
<path class="m" d="M133.5,409.4 L213,408.2" />
<path class="m" d="M144.2,415.1 L205,411.6 Q211,411.2 213,409" />
<path class="m" d="M133.5,467.6 L213,468.8" />
<path class="m" d="M144.2,461.9 L205,465.4 Q211,465.8 213,468" />
<path class="m" d="M125.4,412.4 L133.5,409.4 M125.4,464.6 L133.5,467.6" />
<path class="m" d="M125.4,412.4 Q122.4,438.5 125.4,464.6" />
<path class="m" d="M138.9,409.7 L138.9,467.3"/>
<path class="m" d="M143.3,409.2 L143.3,467.8"/>
<path class="m" d="M158.6,414.4 L158.6,462.6"/>
<path class="m" d="M125.4,412.4 V419.5 H129.6 V413.4" />
<path class="m" d="M125.4,464.6 V457.5 H129.6 V463.6" />
<path class="w" d="M120,432.7 H168.5 A5.8,5.8 0 0 1 168.5,444.3 H120 A5.8,5.8 0 0 1 120,432.7 Z" />
<circle class="m" cx="120" cy="438.5" r="3.3" style="stroke-width:1.5" />
<circle class="b" cx="120" cy="438.5" r="1.2" />
<circle class="m" cx="168.5" cy="438.5" r="3.3" style="stroke-width:1.5" />
<circle class="b" cx="168.5" cy="438.5" r="1.2" />
<path class="w" d="M125.4,412.4 L49.5,418.4 C38,419.5 31.2,428 31.2,438.5 C31.2,449 38,457.5 49.5,458.6 L125.4,464.6" />
<path class="m" d="M68.9,419.4 L68.9,457.6"/>
<path class="m" d="M31.2,437 H114.5 M31.2,440.4 H114.5" />
<rect class="w" x="25.8" y="435.9" width="5.4" height="5.4" rx="0.8" />
<path class="w" d="M120,432.7 H168.5 A5.8,5.8 0 0 1 168.5,444.3 H120 A5.8,5.8 0 0 1 120,432.7 Z" />
<circle class="m" cx="120" cy="438.5" r="3.3" style="stroke-width:1.5" />
<circle class="b" cx="120" cy="438.5" r="1.2" />
<circle class="m" cx="168.5" cy="438.5" r="3.3" style="stroke-width:1.5" />
<circle class="b" cx="168.5" cy="438.5" r="1.2" />
<g transform="translate(767.2 -80.4)">
<circle class="s" cx="242.2" cy="438.2" r="107.5" />
<circle class="s" cx="242.2" cy="438.2" r="104.7" />
<path class="sw" d="M250.46,348.57 L252.29,325.34 L249.89,325.16 L248.07,348.38" />
<path class="sw" d="M264.38,350.97 L269.82,328.31 L267.48,327.75 L262.04,350.41" />
<path class="sw" d="M277.75,355.51 L286.67,333.98 L284.45,333.07 L275.53,354.59" />
<path class="sw" d="M290.25,362.09 L302.42,342.22 L300.38,340.97 L288.2,360.84" />
<path class="sw" d="M301.56,370.54 L316.69,352.83 L314.87,351.27 L299.74,368.98" />
<path class="sw" d="M311.42,380.66 L329.13,365.53 L327.57,363.71 L309.86,378.84" />
<path class="sw" d="M319.56,392.2 L339.43,380.02 L338.18,377.98 L318.31,390.15" />
<path class="sw" d="M325.81,404.87 L347.33,395.95 L346.42,393.73 L324.89,402.65" />
<path class="sw" d="M329.99,418.36 L352.65,412.92 L352.09,410.58 L329.43,416.02" />
<path class="sw" d="M332.02,432.33 L355.24,430.51 L355.06,428.11 L331.83,429.94" />
<path class="sw" d="M331.83,446.46 L355.06,448.29 L355.24,445.89 L332.02,444.07" />
<path class="sw" d="M329.43,460.38 L352.09,465.82 L352.65,463.48 L329.99,458.04" />
<path class="sw" d="M324.89,473.75 L346.42,482.67 L347.33,480.45 L325.81,471.53" />
<path class="sw" d="M318.31,486.25 L338.18,498.42 L339.43,496.38 L319.56,484.2" />
<path class="sw" d="M309.86,497.56 L327.57,512.69 L329.13,510.87 L311.42,495.74" />
<path class="sw" d="M299.74,507.42 L314.87,525.13 L316.69,523.57 L301.56,505.86" />
<path class="sw" d="M288.2,515.56 L300.38,535.43 L302.42,534.18 L290.25,514.31" />
<path class="sw" d="M275.53,521.81 L284.45,543.33 L286.67,542.42 L277.75,520.89" />
<path class="sw" d="M262.04,525.99 L267.48,548.65 L269.82,548.09 L264.38,525.43" />
<path class="sw" d="M248.07,528.02 L249.89,551.24 L252.29,551.06 L250.46,527.83" />
<path class="sw" d="M233.94,527.83 L232.11,551.06 L234.51,551.24 L236.33,528.02" />
<path class="sw" d="M220.02,525.43 L214.58,548.09 L216.92,548.65 L222.36,525.99" />
<path class="sw" d="M206.65,520.89 L197.73,542.42 L199.95,543.33 L208.87,521.81" />
<path class="sw" d="M194.15,514.31 L181.98,534.18 L184.02,535.43 L196.2,515.56" />
<path class="sw" d="M182.84,505.86 L167.71,523.57 L169.53,525.13 L184.66,507.42" />
<path class="sw" d="M172.98,495.74 L155.27,510.87 L156.83,512.69 L174.54,497.56" />
<path class="sw" d="M164.84,484.2 L144.97,496.38 L146.22,498.42 L166.09,486.25" />
<path class="sw" d="M158.59,471.53 L137.07,480.45 L137.98,482.67 L159.51,473.75" />
<path class="sw" d="M154.41,458.04 L131.75,463.48 L132.31,465.82 L154.97,460.38" />
<path class="sw" d="M154.97,416.02 L132.31,410.58 L131.75,412.92 L154.41,418.36" />
<path class="sw" d="M159.51,402.65 L137.98,393.73 L137.07,395.95 L158.59,404.87" />
<path class="sw" d="M166.09,390.15 L146.22,377.98 L144.97,380.02 L164.84,392.2" />
<path class="sw" d="M174.54,378.84 L156.83,363.71 L155.27,365.53 L172.98,380.66" />
<path class="sw" d="M184.66,368.98 L169.53,351.27 L167.71,352.83 L182.84,370.54" />
<path class="sw" d="M196.2,360.84 L184.02,340.97 L181.98,342.22 L194.15,362.09" />
<path class="sw" d="M208.87,354.59 L199.95,333.07 L197.73,333.98 L206.65,355.51" />
<path class="sw" d="M222.36,350.41 L216.92,327.75 L214.58,328.31 L220.02,350.97" />
<path class="sw" d="M236.33,348.38 L234.51,325.16 L232.11,325.34 L233.94,348.57" />
<circle class="w" cx="242.2" cy="438.2" r="90" />
<circle class="m" cx="242.2" cy="438.2" r="84.2" />
<circle class="s" cx="242.2" cy="438.2" r="81.6" />
<path class="m" d="M316.47,404.4 H216.2" />
<path class="m" d="M316.52,471.9 H216.2" />
<path class="m" d="M317.6,407 H217.2" />
<path class="m" d="M317.52,469.6 H217.2" />
<path class="m" d="M319.34,411.6 H216.2 Q213.2,411.6 213.2,413.85 Q213.2,416.1 216.2,416.1 H320.75" />
<path class="m" d="M322.07,421.5 H216.2 Q213.2,421.5 213.2,423.75 Q213.2,426 216.2,426 H322.88" />
<path class="m" d="M323.51,431.3 H216.2 Q213.2,431.3 213.2,433.55 Q213.2,435.8 216.2,435.8 H323.76" />
<path class="m" d="M323.75,441.1 H216.2 Q213.2,441.1 213.2,443.35 Q213.2,445.6 216.2,445.6 H323.46" />
<path class="m" d="M322.79,451 H216.2 Q213.2,451 213.2,453.25 Q213.2,455.5 216.2,455.5 H321.95" />
<path class="m" d="M320.61,460.8 H216.2 Q213.2,460.8 213.2,463.05 Q213.2,465.3 216.2,465.3 H319.17" />
<path class="m" d="M216.2,404.4 Q213.2,404.4 213.2,406 Q213.2,407 217.2,407" />
<path class="m" d="M216.2,471.9 Q213.2,471.9 213.2,470.5 Q213.2,469.6 217.2,469.6" />
<rect class="w" x="241.2" y="404.4" width="2.2" height="67.5" rx="0" style="stroke-width:0.9" />
<path class="b" d="M244,471.5 V469 Q244,465.3 247.8,465.3 Q251.6,465.3 251.6,469 V471.5 Z" />
<path class="m" d="M245.8,470.6 L247.8,467.2 L249.8,470.6 Z" style="fill:#fff;stroke:none" />
<path class="b" d="M282.1,471.5 V469 Q282.1,465.3 285.9,465.3 Q289.7,465.3 289.7,469 V471.5 Z" />
<path class="m" d="M283.9,470.6 L285.9,467.2 L287.9,470.6 Z" style="fill:#fff;stroke:none" />
<rect class="w" x="228.5" y="333" width="27.3" height="21.6" rx="0" />
<path class="m" d="M231.8,333 L231.8,354.6"/>
<path class="m" d="M252.5,333 L252.5,354.6"/>
<rect class="w" x="232.4" y="324.7" width="2.6" height="8.6" rx="0.8" />
<rect class="w" x="249.1" y="324.7" width="2.6" height="8.6" rx="0.8" />
<path class="k" d="M231.8,347.7 H252.5" />
<path class="m" d="M231.8,351.6 H252.5" />
<circle class="w" cx="242.2" cy="339.6" r="3.6" style="stroke-width:2" />
<rect class="w" x="241" y="343.2" width="2.4" height="10" rx="0" />
<g transform="rotate(90 242.2 438.2)">
<rect class="w" x="228.5" y="333" width="27.3" height="21.6" rx="0" />
<path class="m" d="M231.8,333 L231.8,354.6"/>
<path class="m" d="M252.5,333 L252.5,354.6"/>
<rect class="w" x="232.4" y="324.7" width="2.6" height="8.6" rx="0.8" />
<rect class="w" x="249.1" y="324.7" width="2.6" height="8.6" rx="0.8" />
<path class="k" d="M231.8,347.7 H252.5" />
<path class="m" d="M231.8,351.6 H252.5" />
<circle class="w" cx="242.2" cy="339.6" r="3.6" style="stroke-width:2" />
<rect class="w" x="241" y="343.2" width="2.4" height="10" rx="0" />
</g>
<rect class="w" x="228.1" y="522.7" width="28.5" height="21.7" rx="0" />
<path class="m" d="M231.5,522.7 L231.5,544.4"/>
<path class="m" d="M253.2,522.7 L253.2,544.4"/>
<circle class="b" cx="236.7" cy="527.2" r="2.6" />
<circle class="b" cx="247.9" cy="527.2" r="2.6" />
<path class="m" d="M231.5,532.2 L253.2,532.2"/>
<path class="m" d="M231.5,536 L253.2,536"/>
<path class="m" d="M231.5,539.8 L253.2,539.8"/>
<path class="w" d="M231.5,544.4 V552.6 H235 V563.7 H237.3 V567.4 H247 V563.7 H249.8 V552.6 H252.8 V544.4" />
<path class="m" d="M235,552.6 L249.8,552.6"/>
<path class="m" d="M235,544.4 L235,552.6"/>
<path class="m" d="M249.8,544.4 L249.8,552.6"/>
<path class="m" d="M238.5,544.4 L238.5,563.7"/>
<path class="m" d="M246,544.4 L246,563.7"/>
<circle class="b" cx="242.3" cy="549.6" r="1.4" />
<path class="m" d="M235,557.8 L249.8,557.8"/>
<rect class="b" x="237.3" y="563.7" width="9.7" height="3.7" rx="0" />
<path class="m" d="M223.5,541 L226.3,528.5 L227.6,541" />
<path class="m" d="M261.3,541 L258.5,528.5 L257.2,541" />
<circle class="s" cx="172.55" cy="507.85" r="1.5" />
<path class="w" d="M133.5,409.4 L213,408.2 V468.8 L133.5,467.6 Z" style="stroke:none" />
<path class="m" d="M133.5,409.4 L213,408.2" />
<path class="m" d="M144.2,415.1 L205,411.6 Q211,411.2 213,409" />
<path class="m" d="M133.5,467.6 L213,468.8" />
<path class="m" d="M144.2,461.9 L205,465.4 Q211,465.8 213,468" />
<path class="m" d="M125.4,412.4 L133.5,409.4 M125.4,464.6 L133.5,467.6" />
<path class="m" d="M138.9,409.7 L138.9,467.3"/>
<path class="m" d="M143.3,409.2 L143.3,467.8"/>
<path class="m" d="M158.6,414.4 L158.6,462.6"/>
<path class="m" d="M125.4,412.4 V419.5 H129.6 V413.4" />
<path class="m" d="M125.4,464.6 V457.5 H129.6 V463.6" />
<path class="w" d="M120,432.7 H168.5 A5.8,5.8 0 0 1 168.5,444.3 H120 A5.8,5.8 0 0 1 120,432.7 Z" />
<circle class="m" cx="120" cy="438.5" r="3.3" style="stroke-width:1.5" />
<circle class="b" cx="120" cy="438.5" r="1.2" />
<circle class="m" cx="168.5" cy="438.5" r="3.3" style="stroke-width:1.5" />
<circle class="b" cx="168.5" cy="438.5" r="1.2" />
</g>
<rect class="w" x="845.8" y="324" width="5.8" height="66.4" rx="0.8" />
<rect class="w" x="850.8" y="320.8" width="19.8" height="10.6" rx="1.5" />
<rect class="w" x="850.8" y="385.6" width="19.8" height="10.6" rx="1.5" />
<path class="m" d="M850.8,323 L870.6,323"/>
<path class="m" d="M850.8,394 L870.6,394"/>
<path class="m" d="M860,323 L860,331.4"/>
<path class="m" d="M860,385.6 L860,394"/>
<path class="m" d="M855,323 L855,331.4"/>
<path class="m" d="M855,385.6 L855,394"/>
<path class="m" d="M851.6,332.4 H893 Q894.6,332.4 894.6,334 V339 Q894.6,340.6 893,340.6 H856.4 Q852.8,341 852.8,345" />
<path class="m" d="M855,334.6 H892.5 M892.5,332.4 V340.6" />
<path class="m" d="M851.6,384.2 H893 Q894.6,384.2 894.6,382.6 V377.6 Q894.6,376 893,376 H856.4 Q852.8,375.6 852.8,371.6" />
<path class="m" d="M855,382 H892.5 M892.5,384.2 V376" />
<path class="m" d="M894.6,335 L897,333 L900.7,329 M894.6,381.6 L897,383.6 L900.7,387.6" />
<path class="m" d="M894.6,340.6 H906.1 M894.6,376 H906.1" />
<circle class="m" cx="859.8" cy="358.2" r="5.8" />
<circle class="m" cx="859.8" cy="358.2" r="2.5" />
<circle class="b" cx="859.8" cy="358.2" r="0.7" />
<path class="m" d="M852.8,349.8 A9.9,9.9 0 0 1 868.8,354.2 M868.8,362.2 A9.9,9.9 0 0 1 852.8,366.6" />
<path class="m" d="M852.8,346.6 A12.4,12.4 0 0 1 871.6,354.4 M871.6,362 A12.4,12.4 0 0 1 852.8,369.8" />
<path class="m" d="M868.8,355.6 H884 M868.8,360.8 H884" />
<circle class="t" cx="1004.3" cy="627.1" r="74.8" />
<path class="t" d="M930.67,613.9 L962.5,613.9"/>
<path class="t" d="M1046,613.9 L1077.93,613.9"/>
<path class="t" d="M935.02,655.3 L962.5,655.3"/>
<path class="t" d="M1046,655.3 L1073.58,655.3"/>
<path class="t" d="M938.14,662 L962.5,662"/>
<path class="t" d="M1046,662 L1070.46,662"/>
<path class="t" d="M971.5,537 L971.5,586"/>
<path class="t" d="M1035.3,537 L1035.3,586"/>
<path class="t" d="M971.5,545.6 L1035.3,545.6"/>
<path d="M971.5,545.6 L984.5,542.8 L984.5,548.4 Z" fill="#111" stroke="none"/>
<path d="M1035.3,545.6 L1022.3,548.4 L1022.3,542.8 Z" fill="#111" stroke="none"/>
<text transform="translate(1005.51 541.9) scale(0.95 1)" font-size="16.5" text-anchor="middle" fill="#3d3d3d">85</text>
<path class="t" d="M912,587.5 L966,587.5"/>
<path class="t" d="M912,666 L966,666"/>
<path class="t" d="M916,587.5 L916,666"/>
<path d="M916,587.5 L918.8,600.5 L913.2,600.5 Z" fill="#111" stroke="none"/>
<path d="M916,666 L913.2,653 L918.8,653 Z" fill="#111" stroke="none"/>
<text transform="translate(910.4 625.27) rotate(-90) scale(0.95 1)" font-size="16.5" text-anchor="middle" fill="#3d3d3d">104</text>
<path class="t" d="M1084.6,566.3 L1135,566.3"/>
<path class="t" d="M1084.6,566.3 L1084.6,606.4"/>
<path class="t" d="M1046,582.7 L1089,582.7"/>
<path class="t" d="M1046,591.6 L1089,591.6"/>
<path d="M1084.6,582.7 L1082,571.7 L1087.2,571.7 Z" fill="#111" stroke="none"/>
<path d="M1084.6,591.6 L1087.2,602.6 L1082,602.6 Z" fill="#111" stroke="none"/>
<text transform="translate(1095.33 562) scale(0.95 1)" font-size="16.5" text-anchor="middle" fill="#3d3d3d">4-</text>
<text transform="translate(1112 562) scale(0.95 1)" font-size="15.5" text-anchor="middle" fill="#3d3d3d">Φ</text>
<text transform="translate(1127.78 562) scale(0.95 1)" font-size="16.5" text-anchor="middle" fill="#3d3d3d">11</text>
<rect class="w" x="962.7" y="580.5" width="83.2" height="92" rx="5" style="stroke-width:2.1" />
<rect class="w" x="964.5" y="581.4" width="16.4" height="13" rx="6.5" style="stroke-width:2.1" />
<rect class="m" x="968.4" y="583.6" width="8.6" height="8" rx="4" style="stroke-width:1.6" />
<circle class="m" cx="975.7" cy="599.5" r="2.5" style="stroke-width:2.1" />
<circle class="m" cx="975.7" cy="655.3" r="2.5" style="stroke-width:2.1" />
<rect class="m" x="965.1" y="615.8" width="5.2" height="23.2" rx="2" style="stroke-width:2.1" />
<path class="m" d="M965.3,672.5 V665 Q965.3,659.2 972.7,659.2 Q980.1,659.2 980.1,665 V672.5" style="stroke-width:2.1" />
<path class="w" d="M969.4,672.7 V666.4 Q969.4,663.4 972.7,663.4 Q976,663.4 976,666.4 V672.7" style="stroke-width:1.8" />
<rect class="w" x="1027.7" y="581.4" width="16.4" height="13" rx="6.5" style="stroke-width:2.1" />
<rect class="m" x="1031.6" y="583.6" width="8.6" height="8" rx="4" style="stroke-width:1.6" />
<circle class="m" cx="1032.9" cy="599.5" r="2.5" style="stroke-width:2.1" />
<circle class="m" cx="1032.9" cy="655.3" r="2.5" style="stroke-width:2.1" />
<rect class="m" x="1038.3" y="615.8" width="5.2" height="23.2" rx="2" style="stroke-width:2.1" />
<path class="m" d="M1028.5,672.5 V665 Q1028.5,659.2 1035.9,659.2 Q1043.3,659.2 1043.3,665 V672.5" style="stroke-width:2.1" />
<path class="w" d="M1032.6,672.7 V666.4 Q1032.6,663.4 1035.9,663.4 Q1039.2,663.4 1039.2,666.4 V672.7" style="stroke-width:1.8" />
<rect class="m" x="991.9" y="582.4" width="24.7" height="12" rx="2.4" style="stroke-width:2.1" />
<rect class="m" x="991.9" y="659" width="24.7" height="13" rx="2.4" style="stroke-width:2.1" />
<path class="k" d="M994,671.8 H1014.5" />
<path class="t" d="M962,587.5 L971.5,587.5"/>
<path class="t" d="M962,666 L968,666"/>
<path class="t" d="M1035.3,582.7 L1047,582.7"/>
<path class="t" d="M1038,591.6 L1047,591.6"/>
<path class="w" d="M540.88,259.87 L540.73,260.91 L541.08,261.73 L541.94,262.33 L543.3,262.7 L545.15,262.85 L547.49,262.77 L550.3,262.46 L553.57,261.93 L557.28,261.18 L561.41,260.2 L565.95,259.02 L570.87,257.62 L576.15,256.03 L581.77,254.24 L587.69,252.26 L593.88,250.12 L600.32,247.8 L606.98,245.33 L613.82,242.72 L620.81,239.99 L627.91,237.13 L635.1,234.18 L642.33,231.13 L649.57,228.02 L656.79,224.85 L663.94,221.64 L671,218.4 L677.94,215.15 L684.71,211.9 L691.28,208.68 L697.62,205.49 L703.71,202.36 L709.51,199.3 L714.99,196.31 L720.12,193.43 L724.89,190.65 L729.27,188 L733.23,185.49 L736.76,183.13 L739.85,180.93 L742.46,178.91 L744.6,177.06 L746.25,175.41 L747.41,173.95 L748.06,172.7 L748.21,171.67 L747.86,170.85 L747,170.25" />
<path class="w" d="M546.77,261.4 L546.79,262.49 L547.5,263.29 L548.89,263.79 L550.94,263.98 L553.64,263.86 L556.97,263.44 L560.92,262.72 L565.45,261.7 L570.53,260.39 L576.13,258.8 L582.21,256.94 L588.72,254.83 L595.63,252.47 L602.88,249.88 L610.43,247.09 L618.22,244.1 L626.2,240.95 L634.32,237.64 L642.51,234.22 L650.73,230.69 L658.92,227.09 L667.01,223.43 L674.96,219.74 L682.71,216.06 L690.21,212.4 L697.4,208.78 L704.24,205.24 L710.67,201.8 L716.67,198.48 L722.17,195.3 L727.15,192.29 L731.58,189.47 L735.41,186.85 L738.63,184.46 L741.21,182.3 L743.14,180.41 L744.39,178.78 L744.98,177.43 L744.88,176.36 L744.1,175.6" />
<path class="m" d="M562.68,265.29 L564.26,265.41 L566.24,265.34 L568.63,265.08 L571.4,264.63 L574.55,263.99 L578.07,263.17 L581.92,262.16 L586.1,260.97 L590.59,259.62 L595.36,258.1 L600.39,256.42 L605.65,254.59 L611.12,252.63 L616.78,250.53 L622.59,248.31 L628.53,245.99 L634.56,243.56 L640.67,241.05 L646.81,238.47 L652.96,235.82 L659.09,233.13 L665.17,230.4 L671.17,227.65 L677.06,224.89 L682.81,222.13 L688.4,219.39 L693.79,216.68 L698.96,214.02 L703.88,211.42 L708.54,208.89 L712.9,206.43 L716.95,204.08 L720.67,201.83 L724.04,199.69 L727.04,197.69 L729.66,195.82 L731.88,194.1 L733.7,192.53 L735.1,191.12 L736.08,189.89" />
<path class="w" d="M541.14,245.73 L541.71,246.39 L542.76,246.85 L544.27,247.1 L546.25,247.13 L548.67,246.95 L551.54,246.55 L554.83,245.95 L558.53,245.13 L562.62,244.11 L567.08,242.9 L571.89,241.49 L577.02,239.89 L582.46,238.12 L588.17,236.17 L594.13,234.07 L600.31,231.81 L606.67,229.42 L613.2,226.9 L619.84,224.26 L626.58,221.52 L633.38,218.69 L640.2,215.79 L647.02,212.83 L653.79,209.82 L660.5,206.77 L667.1,203.71 L673.56,200.65 L679.85,197.6 L685.94,194.58 L691.8,191.6 L697.4,188.68 L702.72,185.83 L707.73,183.06 L712.4,180.39 L716.71,177.84 L720.64,175.4 L724.18,173.1 L727.3,170.95 L729.98,168.96 L732.23,167.14 L734.01,165.49 L735.34,164.02 L736.19,162.74 L736.57,161.67 L736.47,160.79 L742.14,173.82 L742.23,174.7 L741.85,175.77 L741,177.05 L739.68,178.52 L737.89,180.17 L735.65,181.99 L732.96,183.98 L729.84,186.13 L726.31,188.43 L722.38,190.86 L718.06,193.42 L713.39,196.09 L708.39,198.86 L703.07,201.71 L697.47,204.63 L691.6,207.61 L685.51,210.63 L679.22,213.68 L672.76,216.74 L666.16,219.8 L659.46,222.85 L652.68,225.86 L645.87,228.82 L639.04,231.72 L632.24,234.55 L625.51,237.29 L618.86,239.93 L612.34,242.45 L605.98,244.84 L599.8,247.1 L593.84,249.2 L588.13,251.15 L582.69,252.92 L577.55,254.52 L572.74,255.93 L568.28,257.14 L564.19,258.16 L560.49,258.98 L557.2,259.58 L554.34,259.98 L551.91,260.16 L549.94,260.13 L548.42,259.88 L547.38,259.42 L546.8,258.76 Z" />
<path class="m" d="M545.06,254.75 L545.74,255.48 L547.01,255.95 L548.88,256.15 L551.33,256.09 L554.33,255.75 L557.89,255.14 L561.96,254.27 L566.54,253.14 L571.58,251.75 L577.06,250.13 L582.95,248.27 L589.21,246.19 L595.79,243.9 L602.67,241.41 L609.79,238.75 L617.12,235.92 L624.6,232.94 L632.2,229.84 L639.86,226.63 L647.53,223.34 L655.18,219.97 L662.75,216.56 L670.2,213.12 L677.48,209.67 L684.54,206.24 L691.35,202.85 L697.86,199.52 L704.02,196.26 L709.81,193.11 L715.19,190.07 L720.11,187.17 L724.57,184.42 L728.51,181.85 L731.93,179.46 L734.8,177.28 L737.1,175.31 L738.82,173.57 L739.94,172.07 L740.47,170.81 L740.39,169.81" />
<path class="w" d="M542.11,196.55 L542.75,197.2 L543.98,197.58 L545.8,197.69 L548.19,197.54 L551.14,197.11 L554.62,196.42 L558.6,195.47 L563.06,194.27 L567.95,192.82 L573.25,191.14 L578.92,189.24 L584.9,187.14 L591.16,184.84 L597.65,182.38 L604.31,179.76 L611.1,177 L617.97,174.14 L624.86,171.19 L631.72,168.16 L638.49,165.09 L645.14,162.01 L651.6,158.92 L657.82,155.86 L663.77,152.84 L669.39,149.9 L674.64,147.05 L679.49,144.32 L683.89,141.73 L687.81,139.29 L691.22,137.02 L694.09,134.95 L696.41,133.09 L698.16,131.44 L699.32,130.04 L699.88,128.87 L699.84,127.96 L730.51,163.38 L730.55,164.44 L729.9,165.79 L728.55,167.43 L726.52,169.34 L723.83,171.51 L720.48,173.92 L716.51,176.55 L711.96,179.39 L706.84,182.4 L701.21,185.58 L695.1,188.89 L688.57,192.31 L681.65,195.82 L674.41,199.38 L666.9,202.97 L659.17,206.56 L651.29,210.13 L643.32,213.64 L635.31,217.08 L627.32,220.41 L619.43,223.61 L611.68,226.65 L604.14,229.52 L596.86,232.19 L589.9,234.63 L583.31,236.84 L577.15,238.8 L571.45,240.48 L566.27,241.88 L561.64,242.98 L557.6,243.79 L554.17,244.28 L551.39,244.46 L549.28,244.33 L547.84,243.89 L547.1,243.13 Z" style="stroke:none" />
<path class="k" d="M541.93,196.63 L555.12,226.97" />
<path class="k" d="M702.59,126.77 L715.79,157.11" />
<path class="w" d="M542.71,203.03 L553.25,227.27 L551.87,228.94 L550.07,230.67 L548,232.49 L545.81,234.41 L543.64,236.45 L541.64,238.63 L539.96,240.97 L538.74,243.49 L538.14,246.21 L538.31,249.15 L542.66,259.17 L546.79,257.42 L541.13,244.39 L547.09,241.86 L557.94,226.79 L546.84,201.28 Z" style="stroke:none" />
<path class="w" d="M704.17,132.83 L714.71,157.06 L716.87,157.19 L719.36,157.06 L722.11,156.78 L725.01,156.49 L727.98,156.29 L730.94,156.32 L733.8,156.69 L736.47,157.52 L738.87,158.94 L740.91,161.06 L745.26,171.08 L741.17,172.91 L735.5,159.88 L729.58,162.51 L711.17,160.16 L700.07,134.65 Z" style="stroke:none" />
<path class="w" d="M542.98,204.63 L553.52,228.87 L552.15,230.57 L550.37,232.34 L548.32,234.2 L546.14,236.16 L543.99,238.25 L542.01,240.48 L540.35,242.86 L539.15,245.42 L538.56,248.16 L538.73,251.11 L543.09,261.14 L547.19,259.31 L541.52,246.28 L547.44,243.65 L558.17,228.32 L547.08,202.8 Z" style="stroke:none" />
<path class="m" d="M553.52,228.87 L552.15,230.57 L550.37,232.34 L548.32,234.2 L546.14,236.16 L543.99,238.25 L542.01,240.48 L540.35,242.86 L539.15,245.42 L538.56,248.16 L538.73,251.11 L543.09,261.14" />
<path class="w" d="M705.16,134.11 L715.7,158.35 L717.87,158.51 L720.38,158.41 L723.14,158.18 L726.06,157.93 L729.06,157.78 L732.03,157.85 L734.91,158.26 L737.6,159.13 L740.01,160.57 L742.05,162.71 L746.41,172.73 L742.28,174.48 L736.61,161.45 L730.65,163.99 L712.12,161.38 L701.03,135.86 Z" style="stroke:none" />
<path class="m" d="M715.7,158.35 L717.87,158.51 L720.38,158.41 L723.14,158.18 L726.06,157.93 L729.06,157.78 L732.03,157.85 L734.91,158.26 L737.6,159.13 L740.01,160.57 L742.05,162.71 L746.41,172.73" />
<path class="w" d="M545.24,205.35 L555.78,229.59 L554.47,231.3 L552.75,233.08 L550.78,234.96 L548.69,236.94 L546.62,239.05 L544.72,241.29 L543.13,243.69 L541.99,246.26 L541.45,249.02 L541.66,251.98 L546.01,262 L549.98,260.14 L544.31,247.11 L550.04,244.44 L560.3,229.01 L549.2,203.49 Z" style="stroke:none" />
<path class="m" d="M555.78,229.59 L554.47,231.3 L552.75,233.08 L550.78,234.96 L548.69,236.94 L546.62,239.05 L544.72,241.29 L543.13,243.69 L541.99,246.26 L541.45,249.02 L541.66,251.98 L546.01,262" />
<path class="w" d="M704.14,136.25 L714.68,160.49 L716.83,160.7 L719.3,160.67 L722.02,160.5 L724.9,160.32 L727.85,160.25 L730.78,160.39 L733.62,160.86 L736.28,161.78 L738.66,163.27 L740.69,165.43 L745.05,175.46 L740.99,177.09 L735.32,164.06 L729.46,166.42 L711.18,163.4 L700.08,137.89 Z" style="stroke:none" />
<path class="m" d="M714.68,160.49 L716.83,160.7 L719.3,160.67 L722.02,160.5 L724.9,160.32 L727.85,160.25 L730.78,160.39 L733.62,160.86 L736.28,161.78 L738.66,163.27 L740.69,165.43 L745.05,175.46" />
<path class="w" d="M549.43,205.17 L559.97,229.41 L558.76,231.11 L557.17,232.89 L555.33,234.75 L553.38,236.72 L551.46,238.82 L549.69,241.05 L548.23,243.44 L547.21,246 L546.75,248.75 L547,251.71 L551.36,261.73 L555.1,259.9 L549.43,246.87 L554.82,244.21 L564.26,228.85 L553.17,203.33 Z" style="stroke:none" />
<path class="w" d="M551.36,261.73 L547,251.71 L546.75,248.75 L547.21,246 L548.23,243.44 L549.69,241.05 L551.46,238.82 L553.38,236.72 L555.33,234.75 L557.17,232.89 L558.76,231.11 L559.97,229.41 L549.43,205.17 L549.17,204.24 L549.24,203.52 L549.62,203.21 L550.22,203.38 L550.87,203.99 L551.4,204.89 L561.93,229.12 L560.73,230.83 L559.13,232.6 L557.29,234.47 L555.34,236.44 L553.42,238.54 L551.66,240.77 L550.2,243.16 L549.17,245.72 L548.71,248.47 L548.97,251.43 L553.32,261.45" />
<path class="s" d="M553.76,204.7 L563.27,226.57" />
<path class="w" d="M701.15,139.2 L711.69,163.44 L713.76,163.71 L716.15,163.76 L718.77,163.69 L721.54,163.61 L724.38,163.63 L727.22,163.86 L729.96,164.42 L732.54,165.42 L734.86,166.96 L736.85,169.16 L741.21,179.19 L737.31,180.66 L731.65,167.64 L726.03,169.77 L708.35,166.19 L697.26,140.68 Z" style="stroke:none" />
<path class="w" d="M739.66,180.43 L735.3,170.41 L733.31,168.21 L730.99,166.66 L728.42,165.67 L725.67,165.11 L722.84,164.87 L719.99,164.85 L717.22,164.93 L714.6,165 L712.21,164.96 L710.14,164.68 L699.61,140.44 L699.31,139.45 L699.31,138.55 L699.59,138 L700.08,137.93 L700.65,138.37 L701.15,139.2 L711.69,163.44 L713.76,163.71 L716.15,163.76 L718.77,163.69 L721.54,163.61 L724.38,163.63 L727.22,163.86 L729.96,164.42 L732.54,165.42 L734.86,166.96 L736.85,169.16 L741.21,179.19" />
<path class="s" d="M697.86,142.05 L707.36,163.91" />
<path class="w" d="M555.46,204.1 L566,228.33 L564.93,230.01 L563.5,231.76 L561.85,233.59 L560.1,235.52 L558.38,237.57 L556.81,239.77 L555.53,242.13 L554.65,244.66 L554.32,247.38 L554.64,250.33 L559,260.35 L562.41,258.57 L556.75,245.54 L561.68,242.98 L569.97,227.84 L558.87,202.32 Z" style="stroke:none" />
<path class="w" d="M559,260.35 L554.64,250.33 L554.32,247.38 L554.65,244.66 L555.53,242.13 L556.81,239.77 L558.38,237.57 L560.1,235.52 L561.85,233.59 L563.5,231.76 L564.93,230.01 L566,228.33 L555.46,204.1 L555.24,203.15 L555.42,202.37 L555.96,201.98 L556.72,202.07 L557.48,202.63 L558.05,203.5 L568.59,227.74 L567.52,229.41 L566.09,231.16 L564.44,232.99 L562.69,234.92 L560.97,236.98 L559.4,239.17 L558.12,241.53 L557.24,244.06 L556.9,246.79 L557.23,249.73 L561.59,259.75" />
<path class="k" d="M558.05,203.5 L568.59,227.74 L567.52,229.41 L566.09,231.16 L564.44,232.99 L562.69,234.92 L560.97,236.98 L559.4,239.17 L558.12,241.53 L557.24,244.06 L556.9,246.79 L557.23,249.73" style="stroke-width:1.9" />
<path class="s" d="M559.47,203.69 L568.98,225.56" />
<path class="w" d="M696.26,142.88 L706.8,167.11 L708.75,167.48 L711,167.62 L713.46,167.66 L716.07,167.7 L718.75,167.84 L721.42,168.2 L724.02,168.86 L726.47,169.95 L728.7,171.56 L730.62,173.81 L734.98,183.83 L731.36,185.12 L725.69,172.09 L720.46,173.94 L703.73,169.68 L692.63,144.16 Z" style="stroke:none" />
<path class="w" d="M732.78,185.31 L728.42,175.29 L726.49,173.05 L724.27,171.43 L721.82,170.35 L719.22,169.68 L716.55,169.33 L713.87,169.19 L711.26,169.15 L708.8,169.11 L706.55,168.96 L704.59,168.6 L694.05,144.36 L693.8,143.35 L693.92,142.41 L694.36,141.8 L695.02,141.67 L695.71,142.07 L696.26,142.88 L706.8,167.11 L708.75,167.48 L711,167.62 L713.46,167.66 L716.07,167.7 L718.75,167.84 L721.42,168.2 L724.02,168.86 L726.47,169.95 L728.7,171.56 L730.62,173.81 L734.98,183.83" />
<path class="k" d="M696.26,142.88 L706.8,167.11 L708.75,167.48 L711,167.62 L713.46,167.66 L716.07,167.7 L718.75,167.84 L721.42,168.2 L724.02,168.86 L726.47,169.95 L728.7,171.56 L730.62,173.81" style="stroke-width:1.9" />
<path class="s" d="M693.23,145.53 L702.73,167.4" />
<path class="w" d="M563.17,202.16 L573.71,226.4 L572.82,228.03 L571.6,229.72 L570.19,231.48 L568.69,233.35 L567.22,235.34 L565.9,237.47 L564.84,239.77 L564.16,242.25 L563.97,244.94 L564.39,247.86 L568.74,257.88 L571.75,256.21 L566.08,243.18 L570.43,240.77 L577.27,226 L566.18,200.49 Z" style="stroke:none" />
<path class="w" d="M568.74,257.88 L564.39,247.86 L563.97,244.94 L564.16,242.25 L564.84,239.77 L565.9,237.47 L567.22,235.34 L568.69,233.35 L570.19,231.48 L571.6,229.72 L572.82,228.03 L573.71,226.4 L563.17,202.16 L562.99,201.19 L563.27,200.36 L563.96,199.89 L564.85,199.91 L565.72,200.41 L566.32,201.26 L576.86,225.5 L575.97,227.13 L574.75,228.82 L573.34,230.58 L571.84,232.45 L570.37,234.44 L569.05,236.57 L567.99,238.87 L567.31,241.35 L567.12,244.04 L567.54,246.96 L571.89,256.98" />
<path class="k" d="M566.32,201.26 L576.86,225.5 L575.97,227.13 L574.75,228.82 L573.34,230.58 L571.84,232.45 L570.37,234.44 L569.05,236.57 L567.99,238.87 L567.31,241.35 L567.12,244.04 L567.54,246.96" style="stroke-width:1.9" />
<path class="s" d="M566.77,201.86 L576.28,223.73" />
<path class="w" d="M689.58,147.2 L700.12,171.43 L701.92,171.89 L703.98,172.16 L706.24,172.33 L708.63,172.5 L711.08,172.79 L713.55,173.28 L715.95,174.07 L718.23,175.26 L720.33,176.95 L722.17,179.25 L726.53,189.27 L723.26,190.33 L717.6,177.3 L712.87,178.84 L697.4,173.77 L686.31,148.26 Z" style="stroke:none" />
<path class="w" d="M723.72,190.96 L719.37,180.94 L717.52,178.64 L715.42,176.95 L713.14,175.76 L710.74,174.96 L708.28,174.48 L705.82,174.19 L703.43,174.02 L701.18,173.84 L699.12,173.58 L697.31,173.12 L686.77,148.89 L686.57,147.86 L686.79,146.89 L687.38,146.22 L688.19,146.04 L689,146.4 L689.58,147.2 L700.12,171.43 L701.92,171.89 L703.98,172.16 L706.24,172.33 L708.63,172.5 L711.08,172.79 L713.55,173.28 L715.95,174.07 L718.23,175.26 L720.33,176.95 L722.17,179.25 L726.53,189.27" />
<path class="k" d="M689.58,147.2 L700.12,171.43 L701.92,171.89 L703.98,172.16 L706.24,172.33 L708.63,172.5 L711.08,172.79 L713.55,173.28 L715.95,174.07 L718.23,175.26 L720.33,176.95 L722.17,179.25" style="stroke-width:1.9" />
<path class="s" d="M686.9,149.62 L696.41,171.49" />
<path class="w" d="M572.38,199.4 L582.92,223.64 L582.23,225.21 L581.27,226.82 L580.13,228.5 L578.93,230.28 L577.77,232.17 L576.73,234.22 L575.94,236.43 L575.48,238.85 L575.47,241.48 L576,244.36 L580.35,254.39 L582.88,252.87 L577.21,239.84 L580.86,237.64 L586,223.4 L574.91,197.88 Z" style="stroke:none" />
<path class="w" d="M580.35,254.39 L576,244.36 L575.47,241.48 L575.48,238.85 L575.94,236.43 L576.73,234.22 L577.77,232.17 L578.93,230.28 L580.13,228.5 L581.27,226.82 L582.23,225.21 L582.92,223.64 L572.38,199.4 L572.23,198.41 L572.6,197.53 L573.4,196.99 L574.42,196.94 L575.37,197.39 L576.01,198.22 L586.55,222.46 L585.86,224.03 L584.9,225.64 L583.77,227.32 L582.57,229.1 L581.4,231 L580.37,233.04 L579.57,235.25 L579.12,237.67 L579.1,240.3 L579.63,243.18 L583.99,253.21" />
<path class="k" d="M576.01,198.22 L586.55,222.46 L585.86,224.03 L584.9,225.64 L583.77,227.32 L582.57,229.1 L581.4,231 L580.37,233.04 L579.57,235.25 L579.12,237.67 L579.1,240.3 L579.63,243.18" style="stroke-width:1.9" />
<path class="s" d="M575.5,199.25 L585.01,221.12" />
<path class="w" d="M681.28,152.05 L691.82,176.29 L693.44,176.85 L695.27,177.25 L697.28,177.57 L699.4,177.9 L701.58,178.34 L703.78,178.98 L705.94,179.91 L708.01,181.22 L709.95,183 L711.7,185.36 L716.06,195.38 L713.22,196.19 L707.56,183.16 L703.46,184.33 L689.54,178.37 L678.45,152.86 Z" style="stroke:none" />
<path class="w" d="M712.72,197.23 L708.36,187.21 L706.61,184.86 L704.67,183.07 L702.6,181.76 L700.44,180.83 L698.24,180.19 L696.05,179.75 L693.94,179.42 L691.93,179.1 L690.1,178.7 L688.48,178.14 L677.94,153.9 L677.77,152.87 L678.09,151.86 L678.82,151.15 L679.76,150.93 L680.66,151.26 L681.28,152.05 L691.82,176.29 L693.44,176.85 L695.27,177.25 L697.28,177.57 L699.4,177.9 L701.58,178.34 L703.78,178.98 L705.94,179.91 L708.01,181.22 L709.95,183 L711.7,185.36 L716.06,195.38" />
<path class="k" d="M681.28,152.05 L691.82,176.29 L693.44,176.85 L695.27,177.25 L697.28,177.57 L699.4,177.9 L701.58,178.34 L703.78,178.98 L705.94,179.91 L708.01,181.22 L709.95,183 L711.7,185.36" style="stroke-width:1.9" />
<path class="s" d="M679.04,154.23 L688.55,176.09" />
<path class="w" d="M582.85,195.9 L593.39,220.13 L592.94,221.62 L592.26,223.14 L591.44,224.71 L590.58,226.37 L589.75,228.15 L589.04,230.08 L588.55,232.2 L588.35,234.52 L588.53,237.09 L589.18,239.93 L593.54,249.96 L595.52,248.62 L589.86,235.59 L592.72,233.66 L595.93,220.07 L584.84,194.56 Z" style="stroke:none" />
<path class="w" d="M593.54,249.96 L589.18,239.93 L588.53,237.09 L588.35,234.52 L588.55,232.2 L589.04,230.08 L589.75,228.15 L590.58,226.37 L591.44,224.71 L592.26,223.14 L592.94,221.62 L593.39,220.13 L582.85,195.9 L582.73,194.89 L583.18,193.96 L584.08,193.36 L585.19,193.25 L586.22,193.65 L586.88,194.47 L597.42,218.7 L596.96,220.19 L596.29,221.71 L595.47,223.28 L594.61,224.94 L593.78,226.72 L593.07,228.66 L592.58,230.77 L592.38,233.09 L592.56,235.66 L593.21,238.5 L597.57,248.53" />
<path class="k" d="M586.88,194.47 L597.42,218.7 L596.96,220.19 L596.29,221.71 L595.47,223.28 L594.61,224.94 L593.78,226.72 L593.07,228.66 L592.58,230.77 L592.38,233.09 L592.56,235.66 L593.21,238.5" style="stroke-width:1.9" />
<path class="s" d="M585.43,195.93 L594.94,217.79" />
<path class="w" d="M671.58,157.32 L682.11,181.56 L683.51,182.24 L685.08,182.77 L686.79,183.25 L688.6,183.75 L690.46,184.36 L692.36,185.16 L694.24,186.24 L696.08,187.68 L697.83,189.57 L699.47,191.98 L703.82,202 L701.5,202.54 L695.83,189.51 L692.46,190.29 L680.34,183.37 L669.25,157.86 Z" style="stroke:none" />
<path class="w" d="M700.03,203.97 L695.67,193.95 L694.04,191.54 L692.29,189.65 L690.45,188.21 L688.57,187.13 L686.67,186.33 L684.81,185.72 L683,185.22 L681.29,184.74 L679.72,184.21 L678.32,183.53 L667.78,159.29 L667.64,158.25 L668.05,157.22 L668.89,156.48 L669.94,156.23 L670.93,156.54 L671.58,157.32 L682.11,181.56 L683.51,182.24 L685.08,182.77 L686.79,183.25 L688.6,183.75 L690.46,184.36 L692.36,185.16 L694.24,186.24 L696.08,187.68 L697.83,189.57 L699.47,191.98 L703.82,202" />
<path class="k" d="M671.58,157.32 L682.11,181.56 L683.51,182.24 L685.08,182.77 L686.79,183.25 L688.6,183.75 L690.46,184.36 L692.36,185.16 L694.24,186.24 L696.08,187.68 L697.83,189.57 L699.47,191.98" style="stroke-width:1.9" />
<path class="s" d="M669.84,159.22 L679.35,181.09" />
<path class="w" d="M594.34,191.72 L604.88,215.96 L604.68,217.35 L604.31,218.76 L603.84,220.2 L603.34,221.73 L602.88,223.38 L602.53,225.18 L602.36,227.17 L602.44,229.39 L602.84,231.88 L603.62,234.67 L607.98,244.7 L609.37,243.58 L603.71,230.55 L605.72,228.93 L606.82,216.12 L595.73,190.6 Z" style="stroke:none" />
<path class="w" d="M607.98,244.7 L603.62,234.67 L602.84,231.88 L602.44,229.39 L602.36,227.17 L602.53,225.18 L602.88,223.38 L603.34,221.73 L603.84,220.2 L604.31,218.76 L604.68,217.35 L604.88,215.96 L594.34,191.72 L594.23,190.7 L594.73,189.73 L595.71,189.08 L596.89,188.91 L597.98,189.28 L598.66,190.08 L609.2,214.32 L609,215.71 L608.63,217.11 L608.16,218.56 L607.66,220.09 L607.2,221.73 L606.85,223.53 L606.68,225.53 L606.76,227.75 L607.16,230.24 L607.95,233.03 L612.31,243.05" />
<path class="k" d="M598.66,190.08 L609.2,214.32 L609,215.71 L608.63,217.11 L608.16,218.56 L607.66,220.09 L607.2,221.73 L606.85,223.53 L606.68,225.53 L606.76,227.75 L607.16,230.24 L607.95,233.03" style="stroke-width:1.9" />
<path class="s" d="M596.32,191.97 L605.83,213.84" />
<path class="w" d="M660.69,162.87 L671.23,187.11 L672.39,187.91 L673.67,188.6 L675.04,189.24 L676.5,189.92 L678.02,190.7 L679.57,191.68 L681.14,192.91 L682.72,194.49 L684.26,196.48 L685.77,198.95 L690.13,208.98 L688.36,209.23 L682.7,196.2 L680.14,196.57 L670.02,188.64 L658.93,163.13 Z" style="stroke:none" />
<path class="w" d="M685.98,211.02 L681.62,201 L680.11,198.52 L678.57,196.53 L677,194.95 L675.42,193.72 L673.87,192.75 L672.35,191.96 L670.89,191.28 L669.52,190.64 L668.24,189.95 L667.08,189.15 L656.54,164.91 L656.42,163.86 L656.89,162.82 L657.82,162.07 L658.97,161.8 L660.02,162.1 L660.69,162.87 L671.23,187.11 L672.39,187.91 L673.67,188.6 L675.04,189.24 L676.5,189.92 L678.02,190.7 L679.57,191.68 L681.14,192.91 L682.72,194.49 L684.26,196.48 L685.77,198.95 L690.13,208.98" />
<path class="k" d="M660.69,162.87 L671.23,187.11 L672.39,187.91 L673.67,188.6 L675.04,189.24 L676.5,189.92 L678.02,190.7 L679.57,191.68 L681.14,192.91 L682.72,194.49 L684.26,196.48 L685.77,198.95" style="stroke-width:1.9" />
<path class="s" d="M659.52,164.49 L669.03,186.36" />
<path class="w" d="M617.09,211.23 L617.16,212.52 L617.11,213.79 L617.01,215.09 L616.9,216.47 L616.83,217.96 L616.86,219.61 L617.03,221.47 L617.41,223.58 L618.04,225.98 L618.96,228.71 L623.32,238.74 L624.09,237.86 L618.42,224.83 L619.53,223.57 L618.41,211.63 L617.85,210.35 Z" style="stroke:none" />
<path class="w" d="M623.32,238.74 L618.96,228.71 L618.04,225.98 L617.41,223.58 L617.03,221.47 L616.86,219.61 L616.83,217.96 L616.9,216.47 L617.01,215.09 L617.11,213.79 L617.16,212.52 L617.09,211.23 L621.6,209.41 L621.67,210.7 L621.62,211.97 L621.52,213.27 L621.41,214.65 L621.34,216.14 L621.37,217.8 L621.55,219.65 L621.92,221.76 L622.55,224.16 L623.48,226.9 L627.83,236.92" />
<path class="k" d="M621.6,209.41 L621.67,210.7 L621.62,211.97 L621.52,213.27 L621.41,214.65 L621.34,216.14 L621.37,217.8 L621.55,219.65 L621.92,221.76 L622.55,224.16 L623.48,226.9" style="stroke-width:1.9" />
<path class="w" d="M659.44,192.81 L660.34,193.74 L661.3,194.58 L662.32,195.39 L663.4,196.25 L664.54,197.22 L665.73,198.36 L666.97,199.76 L668.25,201.47 L669.58,203.56 L670.95,206.11 L675.31,216.13 L674.15,216.1 L668.48,203.07 L666.8,203.02 L658.83,194.05 L658.28,192.78 Z" style="stroke:none" />
<path class="w" d="M670.9,218.19 L666.54,208.17 L665.18,205.62 L663.85,203.53 L662.56,201.82 L661.32,200.42 L660.13,199.27 L659,198.31 L657.92,197.45 L656.89,196.64 L655.93,195.8 L655.03,194.87 L659.44,192.81 L660.34,193.74 L661.3,194.58 L662.32,195.39 L663.4,196.25 L664.54,197.22 L665.73,198.36 L666.97,199.76 L668.25,201.47 L669.58,203.56 L670.95,206.11 L675.31,216.13" />
<path class="k" d="M659.44,192.81 L660.34,193.74 L661.3,194.58 L662.32,195.39 L663.4,196.25 L664.54,197.22 L665.73,198.36 L666.97,199.76 L668.25,201.47 L669.58,203.56 L670.95,206.11" style="stroke-width:1.9" />
<path class="w" d="M537.02,192.37 L537.68,193.04 L538.96,193.44 L540.84,193.55 L543.32,193.39 L546.36,192.95 L549.96,192.24 L554.08,191.25 L558.7,190.01 L563.77,188.51 L569.25,186.77 L575.11,184.81 L581.31,182.63 L587.79,180.25 L594.5,177.7 L601.39,174.99 L608.42,172.14 L615.53,169.18 L622.66,166.12 L629.75,162.99 L636.77,159.82 L643.64,156.62 L650.33,153.43 L656.77,150.26 L662.93,147.14 L668.74,144.09 L674.18,141.15 L679.19,138.32 L683.74,135.63 L687.8,133.11 L691.33,130.77 L694.31,128.62 L696.71,126.69 L698.52,124.99 L699.71,123.54 L700.3,122.33 L700.26,121.39 L702.59,126.77 L702.63,127.71 L702.05,128.91 L700.85,130.37 L699.05,132.07 L696.64,134 L693.67,136.14 L690.14,138.49 L686.08,141.01 L681.53,143.7 L676.52,146.52 L671.08,149.47 L665.26,152.51 L659.11,155.63 L652.67,158.8 L645.98,162 L639.1,165.19 L632.09,168.37 L624.99,171.5 L617.86,174.55 L610.76,177.52 L603.73,180.37 L596.84,183.08 L590.12,185.63 L583.65,188 L577.45,190.18 L571.59,192.15 L566.1,193.88 L561.03,195.38 L556.42,196.63 L552.3,197.61 L548.7,198.33 L545.65,198.77 L543.18,198.93 L541.29,198.81 L540.02,198.42 L539.36,197.75 Z" />
<path class="w" d="M540.34,187.46 L540.96,188.09 L542.17,188.47 L543.94,188.58 L546.28,188.42 L549.16,188.01 L552.55,187.33 L556.44,186.4 L560.8,185.23 L565.58,183.82 L570.76,182.18 L576.29,180.32 L582.14,178.27 L588.25,176.02 L594.59,173.62 L601.1,171.06 L607.73,168.37 L614.43,165.57 L621.16,162.69 L627.86,159.73 L634.48,156.74 L640.97,153.72 L647.28,150.7 L653.36,147.71 L659.17,144.77 L664.66,141.9 L669.79,139.12 L674.52,136.45 L678.82,133.91 L682.65,131.53 L685.98,129.32 L688.79,127.29 L691.05,125.47 L692.76,123.87 L693.89,122.49 L694.44,121.36 L694.4,120.47 L695.67,123.39 L695.71,124.27 L695.16,125.41 L694.03,126.78 L692.32,128.39 L690.06,130.21 L687.25,132.23 L683.91,134.45 L680.09,136.83 L675.79,139.36 L671.06,142.03 L665.93,144.81 L660.44,147.69 L654.63,150.63 L648.55,153.62 L642.24,156.64 L635.75,159.65 L629.13,162.65 L622.43,165.6 L615.7,168.49 L609,171.29 L602.36,173.97 L595.85,176.53 L589.52,178.94 L583.41,181.18 L577.56,183.24 L572.03,185.09 L566.85,186.73 L562.06,188.15 L557.71,189.32 L553.82,190.25 L550.42,190.92 L547.55,191.34 L545.21,191.49 L543.43,191.38 L542.23,191.01 L541.61,190.38 Z" />
<g transform="matrix(0.91706 -0.39875 0.39619 0.91117 324.287 86.818)">
<path class="m" d="M326.3,175.8 L347.4,185.4 Q348.2,185.8 348.2,186.8 V190.8 Q348.2,191.8 347.2,192.2 L331,199.5" />
<path class="m" d="M336.4,180.4 V174 Q336.4,172.2 338.2,172.2 H344 Q345.8,172.2 345.8,174 V184.6" />
<path class="m" d="M325.9,179.6 L332.5,182.2" />
</g>
<path class="w" d="M549.36,193.17 L537.4,165.66 L537.45,163.25 L539.29,161.48 L675.75,102.14 L675.73,102.15 L677.12,101.05 L678.31,100.02 L679.29,99.08 L680.06,98.22 L680.62,97.44 L680.96,96.76 L681.09,96.16 L681,95.66 L692.92,123.09 L693.01,123.59 L692.89,124.18 L692.55,124.87 L691.99,125.64 L691.22,126.5 L690.24,127.45 L689.05,128.47 L687.65,129.58 L687.67,129.57 L548.1,190.26" />
<path class="m" d="M677.07,99.18 L680.98,107.66 L684.02,104.12" />
<path class="k" d="M681.06,96.81 L684.02,104.12" />
<path class="m" d="M573.5,136.3 Q622.4,107.3 677.8,92.7" />
<path class="b" d="M577.6,137 L675.8,96 L676.8,99.6 L578.8,141 Z" />
<g transform="matrix(0.91706 -0.39875 0.39619 0.91117 328.665 96.888)">
<rect class="w" x="223.9" y="183.6" width="5.6" height="48" rx="0" />
<rect class="w" x="255.2" y="183.6" width="6" height="48" rx="0" />
<path class="k" d="M226.8,184 V231.4" />
<path class="k" d="M258.2,184 V231.4" />
<rect class="w" x="229.5" y="183" width="25.7" height="38" rx="0" style="stroke:none" />
<path class="m" d="M229.5,187 L255.2,187"/>
<path class="m" d="M229.5,191 L255.2,191"/>
<path class="m" d="M229.5,191 L229.5,231.4"/>
<path class="m" d="M255.2,191 L255.2,231.4"/>
<path class="w" d="M227.7,183.8 V170.4 Q227.7,168.7 229.7,168.7 Q231.7,168.7 231.7,170.4 V183.8" />
<path class="w" d="M252.5,183.8 V170.4 Q252.5,168.7 254.5,168.7 Q256.4,168.7 256.4,170.4 V183.8" />
<rect class="w" x="231.7" y="173.5" width="20.8" height="6.3" rx="0" />
<rect class="w" x="231.7" y="179.8" width="20.8" height="4" rx="0" />
<path class="m" d="M231.7,175.9 L252.5,175.9"/>
<rect class="b" x="234.4" y="170.6" width="5.2" height="2.9" rx="0.5" />
<rect class="b" x="244.7" y="170.6" width="5.2" height="2.9" rx="0.5" />
<path class="m" d="M227.7,183.8 L256.4,183.8"/>
</g>
<g transform="matrix(0.91706 -0.39875 0.39619 0.91117 329.297 98.341)">
<path class="w" d="M232.5,247.5 V224 Q232.5,221.2 234.9,221.2 Q237.3,221.2 237.3,224 V247.5" />
<path class="w" d="M246.9,247.5 V224 Q246.9,221.2 249.3,221.2 Q251.7,221.2 251.7,224 V247.5" />
<path class="m" d="M237.3,226 Q237.5,229.4 239.5,229.6 H244.7 Q246.7,229.4 246.9,226" />
<path class="m" d="M237.3,231.6 H247" />
<rect class="w" x="238.2" y="231.6" width="8.2" height="36.2" rx="0.6" />
<rect class="w" x="235.5" y="249.7" width="13.8" height="8.6" rx="0.6" />
<path class="m" d="M238.2,249.7 L238.2,258.3"/>
<path class="m" d="M246.4,249.7 L246.4,258.3"/>
<path class="m" d="M238.2,263 L246.4,263"/>
</g>
<path class="t" d="M453.9,62 L453.9,200"/>
<path class="t" d="M749.3,62 L749.3,181"/>
<path class="t" d="M453.9,70.3 L749.3,70.3"/>
<path d="M453.9,70.3 L464.9,68 L464.9,72.6 Z" fill="#111" stroke="none"/>
<path d="M749.3,70.3 L738.3,72.6 L738.3,68 Z" fill="#111" stroke="none"/>
<text transform="translate(603.57 66.9) scale(0.95 1)" font-size="16.6" text-anchor="middle" fill="#3d3d3d">487</text>
<path class="t" d="M680,92.4 L789,92.4"/>
<path class="t" d="M544,268.5 L789,268.5"/>
<path class="t" d="M782.5,92.4 L782.5,268.5"/>
<path d="M782.5,92.4 L784.8,103.4 L780.2,103.4 Z" fill="#111" stroke="none"/>
<path d="M782.5,268.5 L780.2,257.5 L784.8,257.5 Z" fill="#111" stroke="none"/>
<text transform="translate(777.5 178.32) rotate(-90) scale(0.95 1)" font-size="16.6" text-anchor="middle" fill="#3d3d3d">289</text>
<path class="t" d="M466.6,238.8 L466.6,301.6"/>
<path class="t" d="M494.4,238.8 L494.4,301.6"/>
<path class="t" d="M450.8,294.2 L547.7,294.2"/>
<path d="M466.6,294.2 L455,296.5 L455,291.9 Z" fill="#111" stroke="none"/>
<path d="M494.4,294.2 L506,291.9 L506,296.5 Z" fill="#111" stroke="none"/>
<text transform="translate(519.73 291.4) scale(0.95 1)" font-size="14.6" text-anchor="middle" letter-spacing="1" fill="#3d3d3d">G1</text>
<text transform="translate(530.38 287.2) scale(0.95 1)" font-size="9" text-anchor="middle" fill="#3d3d3d">1</text>
<path class="t" d="M531.7,291.2 L537,281.4"/>
<path class="t" d="M531.7,291.2 L537,281.4" style="stroke:#333;stroke-width:0.8" />
<text transform="translate(539.75 293.2) scale(0.95 1)" font-size="9" text-anchor="middle" fill="#3d3d3d">2</text>
<text transform="translate(544.8 291.6) scale(0.95 1)" font-size="13" text-anchor="middle" fill="#3d3d3d">&#8243;</text>
<path class="w" d="M462.1,216.5 V238.3 H500.1 V207.7" />
<path class="m" d="M482.7,208.5 L482.7,238.3"/>
<rect class="w" x="456.3" y="230" width="4.9" height="5.2" rx="0.8" />
<path class="m" d="M460.4,216 L453.8,200.3 L481.9,163 M453.8,200.3 L471.2,192 L496,176.4 M460.4,216 L497.6,205.2 L500.1,207.7" />
<path class="m" d="M458,198.4 L488.5,174.6" />
<path class="m" d="M471.2,192 L477.8,206.9 M474.5,190.3 L481.1,205.2" />
<path class="m" d="M480.3,160.6 L530.7,139.1 L535.7,146.5 M481.1,163.2 L532.2,141.4" />
<path class="m" d="M480.3,160.6 L486.9,174.6" />
<path class="m" d="M486.5,166.3 L529,148" />
<g transform="translate(483.9 156.2) rotate(-23.5)">
<rect class="w" x="-2.9" y="-2.2" width="5.8" height="4" rx="0.8" />
</g>
<g transform="translate(526.1 137.3) rotate(-23.5)">
<rect class="w" x="-2.9" y="-2.2" width="5.8" height="4" rx="0.8" />
</g>
<path class="b" d="M490.6,166 L496.6,163.4 L499,169.6 L493,172.4 Z" />
<path class="m" d="M496,173 L514.2,211 M498.8,171.6 L517,209.6" />
<path class="m" d="M505.1,154 L510,165.5 L505.9,177.9 L519.1,207.7" />
<path class="m" d="M509.2,152.3 L514.2,164.6 L510.8,176.3 L523.2,206.9" />
<path class="m" d="M514.6,207.2 L517.4,212.4 L525.6,208.4" />
<path class="b" d="M502,209.5 L506.5,206.2 L510.6,209 L510.2,215.5 L505.6,219.2 L502,216.4 Z" />
<circle class="m" cx="505.9" cy="212.6" r="1.4" style="stroke:#fff;stroke-width:0.9" />
<path class="m" d="M500.1,222 C506,221 512,216 514.6,211.4" />
<path class="w" d="M529,139.5 L536,145.4 L577.8,137.6 L579,141.8 L569.5,146.6 L552,153.4 L541,157.6 L536.4,157.4 L529,150 Z" style="stroke:none" />
<path class="m" d="M536,145.4 L564.5,141.6 L579.4,139.2" />
<path class="m" d="M537.2,146.8 L567,143.6 L574.4,141.2" />
<path class="m" d="M520.5,149.1 L559.6,150.3 L569.5,146.2" />
<path class="m" d="M512.4,151.6 L526,154 L554.6,151.2" />
<path class="m" d="M509.2,152.3 L529,148" />
<path class="m" d="M523.2,206.9 L526,211.6 L541.4,208.4" />
<path class="m" d="M519.1,207.7 L541,199" />
<path class="t" d="M559.6,150.9 L598.5,161.2"/>
<path class="w" d="M635.19,318.99 L642.38,318.71 L649.57,318.99 L656.73,319.82 L663.81,321.2 L670.79,323.13 L677.63,325.58 L684.3,328.56 L690.77,332.05 L697,336.03 L702.97,340.48 L708.64,345.38 L713.98,350.71 L718.98,356.43 L723.6,362.52 L727.83,368.96 L731.65,375.71 L735.02,382.74 L737.95,390.01 L740.41,397.48 L742.39,405.13 L743.89,412.92 L744.89,420.8 L745.39,428.73 L745.39,436.69 L744.89,444.63 L743.89,452.51 L742.39,460.29 L740.41,467.94 L737.95,475.42 L735.02,482.69 L731.65,489.71 L727.83,496.46 L723.6,502.9 L718.98,508.99 L713.98,514.72 L708.64,520.04 L702.97,524.94 L697,529.39 L690.77,533.37 L684.3,536.86 L677.63,539.84 L670.79,542.3 L663.81,544.22 L656.73,545.61 L649.57,546.44 L642.38,546.72 L635.19,546.44 L628.03,545.61" style="stroke:none" />
<path class="s" d="M684.3,328.56 L688.43,330.72 L692.46,333.07 L696.39,335.61 L700.22,338.35 L703.93,341.27 L707.53,344.37 L710.99,347.64 L714.33,351.07 L717.52,354.67 L720.56,358.42 L723.46,362.32 L726.19,366.35 L728.76,370.51 L731.16,374.79 L733.39,379.19 L735.44,383.69 L737.31,388.29 L738.99,392.97 L740.48,397.74 L741.79,402.57 L742.89,407.45 L743.8,412.39 L744.52,417.37 L745.03,422.38 L745.34,427.41 L745.45,432.45 L745.36,437.49 L745.07,442.52 L744.58,447.53 L743.89,452.51 L743,457.45 L741.91,462.35 L740.63,467.18 L739.16,471.95 L737.49,476.65 L735.65,481.25 L733.61,485.76 L731.4,490.17 L729.02,494.47 L726.47,498.64 L723.75,502.69 L720.88,506.6 L717.85,510.36 L714.67,513.98 L711.35,517.43 L707.9,520.72 L704.32,523.84 L700.61,526.78 L696.8,529.53 L692.88,532.1 L688.85,534.47 L684.74,536.64 L680.55,538.61 L676.28,540.37 L671.94,541.93 L667.55,543.26 L663.11,544.39 L658.62,545.29 L654.11,545.97 L649.57,546.44" />
<path class="s" d="M620.23,328.89 L625.88,328.21 L631.57,327.89 L637.26,327.91 L642.93,328.29 L648.58,329.02 L654.18,330.1 L659.72,331.52 L665.17,333.28 L670.51,335.38 L675.73,337.81 L680.82,340.55 L685.75,343.6 L690.51,346.95 L695.08,350.6 L699.45,354.52 L703.6,358.7 L707.52,363.13 L711.19,367.8 L714.61,372.69 L717.77,377.78 L720.64,383.05 L723.23,388.5 L725.52,394.1 L727.51,399.83 L729.19,405.67 L730.55,411.61 L731.59,417.62 L732.31,423.69 L732.7,429.79 L732.76,435.91 L732.5,442.01 L731.91,448.1 L731,454.13 L729.76,460.1 L728.21,465.99 L726.34,471.76 L724.17,477.42 L721.7,482.92 L718.93,488.27 L715.89,493.44 L712.57,498.41 L709,503.16 L705.17,507.69 L701.11,511.97 L696.82,516 L692.33,519.75 L687.65,523.22 L682.78,526.39 L677.76,529.26 L672.58,531.81 L667.29,534.03 L661.88,535.93 L656.37,537.48 L650.8,538.7 L645.16,539.57 L639.5,540.08 L633.81,540.25 L628.12,540.06 L622.45,539.52 L616.82,538.64" />
<path class="s" d="M605.23,345.12 L610.49,343.82 L615.8,342.86 L621.17,342.24 L626.56,341.97 L631.95,342.04 L637.34,342.46 L642.68,343.23 L647.97,344.34 L653.19,345.78 L658.32,347.56 L663.33,349.67 L668.21,352.09 L672.94,354.83 L677.5,357.86 L681.88,361.18 L686.06,364.77 L690.03,368.63 L693.76,372.74 L697.24,377.07 L700.47,381.63 L703.43,386.38 L706.11,391.31 L708.5,396.41 L710.58,401.65 L712.36,407.01 L713.83,412.48 L714.97,418.04 L715.79,423.65 L716.29,429.31 L716.45,434.99 L716.29,440.67 L715.79,446.33 L714.97,451.94 L713.83,457.5 L712.36,462.97 L710.58,468.33 L708.5,473.57 L706.11,478.67 L703.43,483.6 L700.47,488.35 L697.24,492.91 L693.76,497.24 L690.03,501.35 L686.06,505.21 L681.88,508.8 L677.5,512.12 L672.94,515.15 L668.21,517.89 L663.33,520.31 L658.32,522.42 L653.19,524.2 L647.97,525.64 L642.68,526.75 L637.34,527.52 L631.95,527.94 L626.56,528.01 L621.17,527.74 L615.8,527.12 L610.49,526.16 L605.23,524.86" />
<path class="w" d="M551.62,383.2 L552.69,380.02 L563.55,376.1 L562.79,376.8 L562.72,377.99 L562.67,377.94 L557.69,372.19 L556.8,370.82 L556.68,368.66 L558.17,366.96 L564.35,364.03 L565.98,364.43 L566.89,366.34 L566.17,367.85 L560.12,370.71 L560.67,370.06 L560.69,369.16 L560.92,369.47 L565.9,375.22 L566.67,376.46 L566.64,378.55 L565.06,380.05 L554.44,383.88 L555.8,382.54 Z" style="stroke-width:1.7" />
<path class="w" d="M561.04,374.17 L562.11,370.92 L573.54,366.41 L572.85,367.05 L572.77,367.81 L572.62,367.52 L567.8,359.84 L567.05,358.22 L567.03,356.15 L568.49,354.33 L575.03,350.83 L576.67,351.15 L577.67,353.01 L577.02,354.56 L570.63,357.97 L571.05,357.46 L571.11,357.03 L571.42,357.64 L576.24,365.32 L576.86,366.74 L576.76,368.67 L575.19,370.31 L564.01,374.7 L565.26,373.84 Z" style="stroke-width:1.7" />
<path class="w" d="M571.68,366.76 L572.79,363.45 L584.81,358.38 L584.22,358.89 L584.14,359.29 L583.96,358.74 L579.73,349.05 L579.15,347.18 L579.26,345.13 L580.7,343.24 L587.62,339.19 L589.27,339.44 L590.34,341.27 L589.76,342.84 L582.99,346.8 L583.27,346.49 L583.32,346.47 L583.63,347.4 L587.86,357.1 L588.32,358.69 L588.12,360.53 L586.55,362.23 L574.81,367.17 L575.91,366.79 Z" style="stroke-width:1.7" />
<path class="w" d="M583.25,361.15 L584.48,357.78 L597.06,352.2 L596.6,352.56 L596.55,352.63 L596.42,351.82 L593.21,340.13 L592.85,338.03 L593.12,335.96 L594.56,334.05 L601.89,329.46 L603.55,329.67 L604.67,331.46 L604.13,333.05 L596.96,337.53 L597.08,337.45 L597.07,337.8 L597.3,339.06 L600.51,350.75 L600.78,352.5 L600.46,354.29 L598.88,356.02 L586.58,361.45 L587.46,361.57 Z" style="stroke-width:1.7" />
<path class="s" d="M599.62,360.78 L612.49,354.92 L614.08,353.2 L614.54,351.44 L614.49,349.54 L612.76,335.98" />
<path class="w" d="M595.47,357.44 L596.87,354.04 L610.02,348.03 L609.7,348.2 L609.73,348 L609.69,346.94 L607.96,333.38 L607.85,331.06 L608.31,328.95 L609.78,327.03 L617.55,321.97 L619.21,322.15 L620.37,323.92 L619.86,325.51 L612.24,330.47 L612.2,330.63 L612.08,331.31 L612.16,332.88 L613.89,346.44 L613.94,348.34 L613.48,350.1 L611.89,351.82 L599.02,357.68 L599.62,358.27 Z" style="stroke-width:1.7" />
<path class="s" d="M612.42,359.03 L625.86,352.83 L627.49,351.14 L628.1,349.41 L628.3,347.38 L628.46,332.18" />
<path class="w" d="M608.04,355.71 L609.66,352.3 L623.37,345.94 L623.21,345.94 L623.35,345.5 L623.47,344.2 L623.63,329 L623.84,326.5 L624.5,324.37 L626.03,322.46 L634.26,316.99 L635.92,317.15 L637.09,318.91 L636.6,320.51 L628.51,325.88 L628.28,326.26 L628.01,327.22 L627.86,329.08 L627.7,344.28 L627.5,346.31 L626.89,348.04 L625.26,349.73 L611.82,355.93 L612.08,356.95 Z" style="stroke-width:1.7" />
<path class="w" d="M622.6,356.56 L623.59,354.26 L637.45,347.86 L638.27,346.99 L638.79,345.86 L639.19,344.13 L641.56,328.27 L642.05,326 L642.71,324.39 L643.71,323.21 L652.18,317.63 L651.81,322.89 L643.11,331.4 L636.88,350.07 Z" style="stroke:none" />
<path class="s" d="M625.26,359.19 L638.99,352.86 L640.63,351.26 L641.4,349.6 L641.87,347.56 L644.25,331.7" />
<path class="w" d="M620.66,355.73 L622.52,352.44 L636.51,345.97 L636.51,345.81 L636.77,345.21 L637.1,343.8 L639.47,327.94 L640.02,325.4 L640.9,323.31 L642.48,321.48 L651.02,315.86 L652.69,316.03 L653.85,317.79 L653.35,319.39 L644.94,324.93 L644.53,325.47 L644.07,326.6 L643.65,328.6 L641.27,344.46 L640.8,346.5 L640.03,348.16 L638.39,349.76 L624.66,356.09 L624.54,357.4 Z" style="stroke-width:1.7" />
<path class="w" d="M622.6,517.17 L623.59,519.2 L637.45,521.18 L638.27,521.81 L638.79,522.79 L639.19,524.43 L641.56,539.89 L642.05,542.05 L642.71,543.48 L643.71,544.36 L652.18,547.26 L651.81,542 L643.11,536.17 L636.88,519.11 Z" style="stroke:none" />
<path class="s" d="M623.64,524.34 L637.68,526.36 L637.24,526.26 L637.39,526.59 L637.7,527.87 L640.08,543.33" />
<path class="w" d="M624.5,516.24 L624.14,517.16 L637.82,519.1 L639.9,520.46 L640.79,522.1 L641.27,524.09 L643.65,539.55 L644.06,541.41 L644.43,542.25 L644.49,542.4 L652.87,545.26 L653.76,546.68 L653.07,548.68 L651.5,549.26 L642.93,546.33 L641,544.72 L640.03,542.7 L639.48,540.23 L637.1,524.77 L636.79,523.49 L636.64,523.16 L637.08,523.26 L623.04,521.24 L620.7,518.1 Z" style="stroke-width:1.7" />
<path class="w" d="M634.97,358.54 L636.25,356.29 L650.11,350 L651.01,349.14 L651.66,348.03 L652.29,346.35 L656.88,330.88 L657.66,328.66 L658.52,327.09 L659.61,325.93 L668.23,320.45 L667.12,325.59 L657.84,333.92 L649.25,352.15 Z" style="stroke:none" />
<path class="s" d="M637.89,361.23 L651.64,355 L653.27,353.55 L654.18,352.02 L654.91,350.06 L659.5,334.59" />
<path class="w" d="M633.13,357.49 L635.21,354.45 L649.19,348.09 L649.35,347.83 L649.74,347.15 L650.27,345.73 L654.85,330.26 L655.72,327.82 L656.8,325.86 L658.42,324.18 L667.1,318.67 L668.76,318.86 L669.9,320.65 L669.37,322.24 L660.8,327.68 L660.24,328.31 L659.6,329.5 L658.9,331.49 L654.31,346.96 L653.58,348.92 L652.67,350.45 L651.04,351.9 L637.29,358.13 L636.81,359.59 Z" style="stroke-width:1.7" />
<path class="w" d="M634.97,515.19 L636.25,517.17 L650.11,519.04 L651.01,519.65 L651.66,520.61 L652.29,522.21 L656.88,537.28 L657.66,539.39 L658.52,540.78 L659.61,541.64 L668.23,544.44 L667.12,539.3 L657.84,533.65 L649.25,517.03 Z" style="stroke:none" />
<path class="s" d="M636.33,522.32 L650.36,524.23 L650.1,524.24 L650.37,524.66 L650.87,525.94 L655.46,541.01" />
<path class="w" d="M636.74,514.04 L636.77,515.12 L650.46,516.96 L652.52,518.17 L653.55,519.67 L654.31,521.58 L658.89,536.65 L659.58,538.49 L660.12,539.4 L660.36,539.66 L668.89,542.42 L669.8,543.83 L669.14,545.84 L667.58,546.45 L658.87,543.62 L656.92,542.17 L655.75,540.29 L654.86,537.91 L650.27,522.84 L649.77,521.56 L649.5,521.14 L649.76,521.13 L635.73,519.22 L633.19,516.34 Z" style="stroke-width:1.7" />
<path class="w" d="M646.88,362.45 L648.45,360.3 L662.31,354.21 L663.28,353.39 L664.05,352.34 L664.91,350.73 L671.62,336.02 L672.7,333.91 L673.74,332.41 L674.92,331.31 L683.69,326.04 L681.87,330.92 L672.01,338.9 L661.16,356.26 Z" style="stroke:none" />
<path class="s" d="M650.04,365.27 L663.8,359.23 L665.42,357.93 L666.46,356.54 L667.43,354.72 L674.14,340.01" />
<path class="w" d="M645.17,361.2 L647.45,358.44 L661.41,352.3 L661.73,351.95 L662.25,351.23 L662.99,349.84 L669.7,335.13 L670.88,332.84 L672.13,331.04 L673.78,329.53 L682.6,324.22 L684.26,324.46 L685.35,326.27 L684.78,327.85 L676.06,333.09 L675.35,333.79 L674.52,334.98 L673.54,336.91 L666.83,351.62 L665.86,353.44 L664.82,354.83 L663.2,356.13 L649.44,362.17 L648.58,363.69 Z" style="stroke-width:1.7" />
<path class="w" d="M646.88,511.29 L648.45,513.16 L662.31,514.83 L663.28,515.4 L664.05,516.31 L664.91,517.83 L671.62,532.13 L672.7,534.14 L673.74,535.46 L674.92,536.26 L683.69,538.85 L681.87,533.97 L672.01,528.67 L661.16,512.91 Z" style="stroke:none" />
<path class="s" d="M648.57,518.32 L662.59,520.02 L662.51,520.12 L662.9,520.59 L663.6,521.84 L670.31,536.15" />
<path class="w" d="M648.5,509.93 L648.92,511.1 L662.62,512.74 L664.64,513.79 L665.81,515.13 L666.82,516.92 L673.53,531.22 L674.48,533 L675.2,533.93 L675.61,534.26 L684.29,536.82 L685.23,538.2 L684.63,540.23 L683.09,540.88 L674.24,538.26 L672.28,536.99 L670.92,535.27 L669.71,533.05 L663,518.74 L662.3,517.49 L661.91,517.02 L661.99,516.92 L647.97,515.22 L645.26,512.64 Z" style="stroke-width:1.7" />
<path class="w" d="M658.04,368.18 L659.87,366.2 L673.73,360.4 L674.77,359.64 L675.67,358.66 L676.73,357.17 L685.43,343.58 L686.79,341.63 L688,340.24 L689.27,339.21 L698.16,334.24 L695.68,338.75 L685.3,346.21 L672.32,362.3 Z" style="stroke:none" />
<path class="s" d="M661.41,371.19 L675.18,365.44 L676.78,364.31 L677.92,363.08 L679.1,361.42 L687.81,347.83" />
<path class="w" d="M656.48,366.75 L658.93,364.3 L672.88,358.47 L673.35,358.06 L674.01,357.34 L674.95,356.02 L683.66,342.43 L685.11,340.35 L686.52,338.73 L688.19,337.39 L697.13,332.4 L698.78,332.69 L699.82,334.53 L699.2,336.09 L690.34,341.03 L689.47,341.75 L688.47,342.92 L687.21,344.73 L678.5,358.32 L677.32,359.98 L676.18,361.21 L674.58,362.34 L660.81,368.09 L659.59,369.62 Z" style="stroke-width:1.7" />
<path class="w" d="M658.04,505.55 L659.87,507.27 L673.73,508.64 L674.77,509.16 L675.67,509.99 L676.73,511.39 L685.43,524.57 L686.79,526.42 L688,527.63 L689.27,528.36 L698.16,530.65 L695.68,526.14 L685.3,521.35 L672.32,506.87 Z" style="stroke:none" />
<path class="s" d="M660.06,512.44 L674.06,513.84 L674.16,513.99 L674.68,514.49 L675.57,515.66 L684.28,528.85" />
<path class="w" d="M659.48,504.01 L660.28,505.19 L673.99,506.54 L675.98,507.42 L677.25,508.59 L678.49,510.21 L687.19,523.4 L688.41,525.06 L689.3,525.96 L689.87,526.33 L698.69,528.6 L699.69,529.95 L699.16,531.99 L697.64,532.69 L688.67,530.39 L686.69,529.29 L685.17,527.78 L683.68,525.75 L674.97,512.56 L674.08,511.39 L673.56,510.89 L673.46,510.74 L659.46,509.34 L656.59,507.09 Z" style="stroke-width:1.7" />
<path class="w" d="M668.17,375.61 L670.24,373.83 L684.1,368.42 L685.2,367.72 L686.21,366.84 L687.46,365.51 L697.98,353.37 L699.58,351.63 L700.94,350.38 L702.29,349.44 L711.31,344.87 L708.23,348.88 L697.36,355.69 L682.45,370.12 Z" style="stroke:none" />
<path class="s" d="M671.71,378.86 L685.5,373.48 L687.07,372.52 L688.29,371.46 L689.66,370.01 L700.17,357.86" />
<path class="w" d="M666.79,374.01 L669.37,371.9 L683.3,366.46 L683.93,366.03 L684.73,365.33 L685.87,364.12 L696.38,351.98 L698.07,350.14 L699.61,348.73 L701.3,347.57 L710.35,342.98 L711.99,343.33 L712.95,345.22 L712.27,346.75 L703.29,351.31 L702.27,352.02 L701.08,353.12 L699.57,354.76 L689.06,366.91 L687.69,368.36 L686.47,369.42 L684.9,370.38 L671.11,375.76 L669.55,377.22 Z" style="stroke-width:1.7" />
<path class="w" d="M668.17,498.12 L670.24,499.64 L684.1,500.62 L685.2,501.07 L686.21,501.8 L687.46,503.04 L697.98,514.78 L699.58,516.42 L700.94,517.49 L702.29,518.13 L711.31,520.02 L708.23,516.01 L697.36,511.88 L682.45,499.05 Z" style="stroke:none" />
<path class="s" d="M670.51,504.83 L684.5,505.82 L684.76,506.01 L685.42,506.5 L686.5,507.57 L697.01,519.3" />
<path class="w" d="M669.42,496.41 L670.57,497.55 L684.3,498.51 L686.24,499.23 L687.6,500.21 L689.03,501.62 L699.55,513.36 L701,514.86 L702.07,515.7 L702.79,516.07 L711.75,517.95 L712.8,519.26 L712.37,521.32 L710.88,522.09 L701.79,520.18 L699.82,519.28 L698.15,517.98 L696.41,516.2 L685.9,504.47 L684.82,503.4 L684.16,502.91 L683.9,502.72 L669.91,501.73 L666.92,499.83 Z" style="stroke-width:1.7" />
<path class="w" d="M677.02,384.55 L679.31,383.01 L693.17,378.07 L694.32,377.45 L695.42,376.69 L696.84,375.55 L708.94,365.15 L710.76,363.65 L712.26,362.57 L713.68,361.75 L722.8,357.64 L719.19,361.08 L707.9,367.08 L691.3,379.53 Z" style="stroke:none" />
<path class="s" d="M680.69,388.07 L694.5,383.15 L696.02,382.36 L697.3,381.48 L698.82,380.26 L710.91,369.86" />
<path class="w" d="M675.84,382.8 L678.52,381.04 L692.43,376.08 L693.22,375.65 L694.15,375 L695.47,373.94 L707.57,363.54 L709.46,361.98 L711.1,360.8 L712.78,359.83 L721.93,355.72 L723.55,356.15 L724.42,358.08 L723.67,359.57 L714.57,363.66 L713.41,364.34 L712.06,365.32 L710.31,366.76 L698.22,377.16 L696.7,378.38 L695.42,379.26 L693.9,380.05 L680.09,384.97 L678.21,386.3 Z" style="stroke-width:1.7" />
<path class="w" d="M677.02,489.18 L679.31,490.46 L693.17,490.97 L694.32,491.34 L695.42,491.96 L696.84,493.01 L708.94,503.01 L710.76,504.4 L712.26,505.3 L713.68,505.82 L722.8,507.24 L719.19,503.81 L707.9,500.48 L691.3,489.65 Z" style="stroke:none" />
<path class="s" d="M679.67,495.66 L693.64,496.19 L694.07,496.38 L694.86,496.82 L696.11,497.75 L708.2,507.74" />
<path class="w" d="M678.05,487.33 L679.54,488.36 L693.29,488.86 L695.16,489.4 L696.59,490.19 L698.18,491.37 L710.28,501.37 L711.96,502.66 L713.18,503.4 L714.06,503.74 L723.13,505.15 L724.25,506.4 L723.92,508.49 L722.47,509.33 L713.29,507.9 L711.33,507.2 L709.55,506.14 L707.6,504.64 L695.51,494.65 L694.26,493.72 L693.47,493.28 L693.04,493.09 L679.07,492.56 L675.99,491.03 Z" style="stroke-width:1.7" />
<path class="w" d="M684.38,394.78 L686.84,393.51 L700.7,389.1 L701.9,388.58 L703.08,387.96 L704.64,387.03 L718.05,378.62 L720.05,377.41 L721.66,376.52 L723.14,375.83 L732.35,372.27 L728.3,375.03 L716.66,380.12 L698.66,390.29 Z" style="stroke:none" />
<path class="s" d="M688.14,398.61 L701.96,394.21 L703.41,393.59 L704.73,392.9 L706.36,391.92 L719.77,383.52" />
<path class="w" d="M683.41,392.9 L686.15,391.51 L700.04,387.09 L700.98,386.68 L702.04,386.12 L703.52,385.23 L716.93,376.83 L718.99,375.58 L720.7,374.64 L722.36,373.86 L731.59,370.29 L733.18,370.81 L733.94,372.78 L733.11,374.24 L723.92,377.79 L722.62,378.4 L721.12,379.24 L719.17,380.42 L705.76,388.82 L704.13,389.8 L702.81,390.49 L701.36,391.11 L687.54,395.51 L685.35,396.66 Z" style="stroke-width:1.7" />
<path class="w" d="M684.38,478.95 L686.84,479.96 L700.7,479.94 L701.9,480.21 L703.08,480.69 L704.64,481.53 L718.05,489.53 L720.05,490.64 L721.66,491.35 L723.14,491.74 L732.35,492.62 L728.3,489.86 L716.66,487.45 L698.66,478.89 Z" style="stroke:none" />
<path class="s" d="M687.31,485.17 L701.27,485.15 L701.86,485.33 L702.77,485.7 L704.17,486.45 L717.58,494.45" />
<path class="w" d="M685.18,477 L686.97,477.84 L700.74,477.82 L702.54,478.19 L704,478.79 L705.72,479.71 L719.13,487.71 L721,488.75 L722.37,489.36 L723.39,489.64 L732.55,490.52 L733.75,491.69 L733.54,493.8 L732.15,494.73 L722.89,493.84 L720.95,493.34 L719.1,492.53 L716.98,491.35 L703.57,483.35 L702.17,482.6 L701.26,482.23 L700.67,482.05 L686.71,482.07 L683.58,480.91 Z" style="stroke-width:1.7" />
<path class="w" d="M690.07,406.04 L692.66,405.07 L706.52,401.26 L707.75,400.84 L709,400.36 L710.67,399.67 L725.09,393.46 L727.23,392.56 L728.93,391.88 L730.45,391.34 L739.73,388.37 L735.34,390.39 L723.43,394.48 L704.35,402.14 Z" style="stroke:none" />
<path class="s" d="M693.85,410.21 L707.69,406.39 L709.07,405.93 L710.39,405.43 L712.1,404.72 L726.53,398.51" />
<path class="w" d="M689.33,404.06 L692.07,403.04 L705.95,399.22 L707.04,398.85 L708.21,398.4 L709.83,397.73 L724.26,391.52 L726.42,390.6 L728.18,389.91 L729.8,389.33 L739.08,386.35 L740.64,386.97 L741.29,388.98 L740.37,390.38 L731.1,393.35 L729.68,393.86 L728.03,394.51 L725.93,395.41 L711.5,401.62 L709.79,402.33 L708.47,402.83 L707.09,403.29 L693.25,407.11 L690.8,408.02 Z" style="stroke-width:1.7" />
<path class="w" d="M690.07,467.69 L692.66,468.39 L706.52,467.79 L707.75,467.95 L709,468.28 L710.67,468.89 L725.09,474.69 L727.23,475.49 L728.93,475.99 L730.45,476.23 L739.73,476.52 L735.34,474.5 L723.43,473.09 L704.35,467.03 Z" style="stroke:none" />
<path class="s" d="M693.25,473.6 L707.18,473 L707.94,473.12 L708.95,473.4 L710.48,473.95 L724.91,479.76" />
<path class="w" d="M690.61,465.65 L692.67,466.27 L706.46,465.67 L708.17,465.88 L709.65,466.27 L711.45,466.92 L725.87,472.73 L727.9,473.49 L729.4,473.92 L730.55,474.12 L739.79,474.41 L741.06,475.5 L740.99,477.62 L739.66,478.63 L730.35,478.34 L728.45,478.05 L726.55,477.5 L724.31,476.66 L709.88,470.85 L708.35,470.3 L707.34,470.02 L706.58,469.9 L692.65,470.5 L689.52,469.73 Z" style="stroke-width:1.7" />
<path class="w" d="M693.94,418.06 L696.62,417.42 L710.48,414.23 L711.74,413.93 L713.03,413.61 L714.77,413.17 L729.88,409.3 L732.11,408.73 L733.87,408.28 L735.43,407.89 L744.75,405.56 L740.13,406.79 L728.04,409.81 L708.22,414.8 Z" style="stroke:none" />
<path class="s" d="M697.7,422.58 L711.56,419.39 L712.84,419.08 L714.14,418.76 L715.89,418.32 L731.01,414.45" />
<path class="w" d="M693.44,416 L696.15,415.36 L710.01,412.17 L711.24,411.87 L712.51,411.56 L714.24,411.12 L729.36,407.25 L731.59,406.68 L733.35,406.23 L734.91,405.84 L744.24,403.51 L745.75,404.22 L746.27,406.27 L745.26,407.61 L735.94,409.94 L734.39,410.33 L732.64,410.78 L730.41,411.35 L715.29,415.22 L713.54,415.66 L712.24,415.98 L710.96,416.29 L697.1,419.48 L694.43,420.12 Z" style="stroke-width:1.7" />
<path class="w" d="M693.94,455.67 L696.62,456.04 L710.48,454.81 L711.74,454.86 L713.03,455.04 L714.77,455.39 L729.88,458.86 L732.11,459.32 L733.87,459.59 L735.43,459.68 L744.75,459.33 L740.13,458.1 L728.04,457.76 L708.22,454.38 Z" style="stroke:none" />
<path class="s" d="M697.33,461.26 L711.25,460.02 L712.15,460.07 L713.27,460.22 L714.9,460.55 L730.01,464.02" />
<path class="w" d="M694.23,453.58 L696.51,453.93 L710.32,452.7 L711.93,452.76 L713.39,452.96 L715.23,453.33 L730.35,456.79 L732.5,457.24 L734.1,457.48 L735.38,457.56 L744.67,457.22 L746.01,458.23 L746.09,460.34 L744.83,461.44 L735.47,461.79 L733.64,461.69 L731.73,461.4 L729.41,460.92 L714.3,457.45 L712.67,457.12 L711.55,456.97 L710.65,456.92 L696.73,458.16 L693.64,457.77 Z" style="stroke-width:1.7" />
<path class="w" d="M695.89,430.55 L698.63,430.24 L712.49,427.7 L713.76,427.52 L715.07,427.36 L716.84,427.18 L732.31,425.75 L734.59,425.52 L736.37,425.31 L737.94,425.08 L747.29,423.41 L742.56,423.82 L730.37,425.73 L710.17,427.94 Z" style="stroke:none" />
<path class="s" d="M699.59,435.43 L713.46,432.88 L714.63,432.71 L715.89,432.56 L717.64,432.39 L733.1,430.96" />
<path class="w" d="M695.66,428.44 L698.27,428.16 L712.11,425.62 L713.48,425.42 L714.84,425.26 L716.64,425.08 L732.11,423.65 L734.36,423.42 L736.1,423.22 L737.58,423 L746.92,421.33 L748.38,422.14 L748.76,424.22 L747.66,425.49 L738.31,427.16 L736.65,427.41 L734.81,427.63 L732.5,427.86 L717.04,429.29 L715.29,429.46 L714.03,429.61 L712.86,429.78 L698.99,432.33 L696.13,432.65 Z" style="stroke-width:1.7" />
<path class="w" d="M695.89,443.19 L698.63,443.22 L712.49,441.34 L713.76,441.28 L715.07,441.29 L716.84,441.37 L732.31,442.41 L734.59,442.53 L736.37,442.56 L737.94,442.49 L747.29,441.48 L742.56,441.07 L730.37,441.84 L710.17,441.24 Z" style="stroke:none" />
<path class="s" d="M699.46,448.42 L713.36,446.54 L714.4,446.49 L715.6,446.5 L717.3,446.59 L732.77,447.62" />
<path class="w" d="M695.92,441.07 L698.39,441.12 L712.22,439.24 L713.71,439.16 L715.14,439.17 L716.98,439.26 L732.44,440.3 L734.67,440.41 L736.35,440.44 L737.74,440.38 L747.06,439.38 L748.47,440.29 L748.7,442.39 L747.52,443.58 L738.15,444.59 L736.4,444.67 L734.51,444.64 L732.17,444.52 L716.7,443.49 L715,443.4 L713.8,443.39 L712.76,443.44 L698.86,445.32 L695.87,445.3 Z" style="stroke-width:1.7" />
<ellipse class="w" cx="616.6" cy="440" rx="85.6" ry="85.4"/>
<ellipse class="w" cx="615.2" cy="439.6" rx="85.5" ry="85.2"/>
<ellipse class="w" cx="610" cy="435.5" rx="80" ry="84.8"/>
<g transform="matrix(0.966 0 0 1.012 371.25 -6.55)">
<path class="m" d="M316.47,404.4 H216.2" />
<path class="m" d="M316.52,471.9 H216.2" />
<path class="m" d="M317.6,407 H217.2" />
<path class="m" d="M317.52,469.6 H217.2" />
<path class="m" d="M319.34,411.6 H216.2 Q213.2,411.6 213.2,413.85 Q213.2,416.1 216.2,416.1 H320.75" />
<path class="m" d="M322.07,421.5 H216.2 Q213.2,421.5 213.2,423.75 Q213.2,426 216.2,426 H322.88" />
<path class="m" d="M323.51,431.3 H216.2 Q213.2,431.3 213.2,433.55 Q213.2,435.8 216.2,435.8 H323.76" />
<path class="m" d="M323.75,441.1 H216.2 Q213.2,441.1 213.2,443.35 Q213.2,445.6 216.2,445.6 H323.46" />
<path class="m" d="M322.79,451 H216.2 Q213.2,451 213.2,453.25 Q213.2,455.5 216.2,455.5 H321.95" />
<path class="m" d="M320.61,460.8 H216.2 Q213.2,460.8 213.2,463.05 Q213.2,465.3 216.2,465.3 H319.17" />
<path class="m" d="M216.2,404.4 Q213.2,404.4 213.2,406 Q213.2,407 217.2,407" />
<path class="m" d="M216.2,471.9 Q213.2,471.9 213.2,470.5 Q213.2,469.6 217.2,469.6" />
<rect class="w" x="241.2" y="404.4" width="2.2" height="67.5" rx="0" style="stroke-width:0.9" />
<path class="b" d="M244,471.5 V469 Q244,465.3 247.8,465.3 Q251.6,465.3 251.6,469 V471.5 Z" />
<path class="m" d="M245.8,470.6 L247.8,467.2 L249.8,470.6 Z" style="fill:#fff;stroke:none" />
<path class="b" d="M282.1,471.5 V469 Q282.1,465.3 285.9,465.3 Q289.7,465.3 289.7,469 V471.5 Z" />
<path class="m" d="M283.9,470.6 L285.9,467.2 L287.9,470.6 Z" style="fill:#fff;stroke:none" />
</g>
<path class="k" d="M677.6,403.4 C685.6,420 685.6,453 677.6,470.6" />
<g transform="translate(369.1 -2.8)">
<rect class="w" x="228.5" y="333" width="27.3" height="21.6" rx="0" />
<path class="m" d="M231.8,333 L231.8,354.6"/>
<path class="m" d="M252.5,333 L252.5,354.6"/>
<rect class="w" x="232.4" y="324.7" width="2.6" height="8.6" rx="0.8" />
<rect class="w" x="249.1" y="324.7" width="2.6" height="8.6" rx="0.8" />
<path class="k" d="M231.8,347.7 H252.5" />
<path class="m" d="M231.8,351.6 H252.5" />
<circle class="w" cx="242.2" cy="339.6" r="3.6" style="stroke-width:2" />
<rect class="w" x="241" y="343.2" width="2.4" height="10" rx="0" />
</g>
<path class="m" d="M598.6,350.5 L602.2,329.6 M630.4,350.5 L626.6,329.6" />
<rect class="w" x="690" y="421.7" width="27" height="26.6" rx="1.5" />
<rect class="m" x="702" y="424.2" width="14" height="21.6" rx="1.5" />
<path class="m" d="M690,421.7 L690,448.3"/>
<path class="m" d="M691.5,424.6 H702 M691.5,445.4 H702 M692.5,433.4 H701 M692.5,436.8 H701" />
<circle class="w" cx="709.2" cy="435.2" r="3.4" />
<circle class="w" cx="705.6" cy="435.4" r="2.2" />
<path class="k" d="M702,424 V446" />
<path class="w" d="M600.7,520.6 L638.6,519.6 L639.4,538.6 L634.5,541 L606,540.6 L601.2,536.6 Z" />
<path class="b" d="M604.6,523 H634 V527.4 H604.6 Z" />
<path class="m" d="M606,529.5 H632.6 M606,533 H632.6 M606,536.6 H632.6" />
<path class="m" d="M604.6,521 V539.4 M634.2,520.4 V540" />
<path class="w" d="M638.8,524.4 L656.6,521.6 L658.4,538.2 L640,540.4 Z" />
<path class="w" d="M639,538 L650.6,538 L652,540 L661.3,540.6 L661.6,552.6 L655.6,557.5 L646,557.5 L644.8,547 L639.2,545.4 Z" />
<path class="b" d="M646,557.5 L655.6,557.5 L661.6,552.6 L661.4,545.6 L649.6,546 L646.4,549 Z" />
<path class="b" d="M641.6,541.4 H646 V545 H641.6 Z" />
<path class="m" d="M573.2,512.6 Q572.4,517.6 575.6,518.2 Q579.4,518.6 580.4,515.2 M586,518.4 Q585,526.4 589,528 Q594,529.4 596,524.6 M590.4,520.6 Q590,524.6 592.4,525.4" />
<path class="w" d="M521.9,410.3 L577,407.2 V469.6 L521.9,466.3 Z" style="stroke:none" />
<path class="m" d="M521.9,414.9 L575.7,408.1 M522.6,410.3 L577,407.2" />
<path class="m" d="M521.9,461.9 L575.7,468.7 M522.6,466.3 L577,469.6" />
<path class="m" d="M493.1,412.6 L506.7,409.6 L507.5,408.6 L521.1,405.8 L533,405.6" />
<path class="m" d="M493.1,463.8 L506.7,467 L507.5,468 L521.1,470.6 L536.5,471" />
<path class="w" d="M493.1,412.6 L506.7,409.6 V467 L493.1,463.8 Q489.4,438 493.1,412.6 Z" />
<path class="w" d="M506.7,409.6 H521.6 V467 H506.7 Z" style="stroke:none" />
<path class="m" d="M506.2,409.6 L506.2,467.2"/>
<path class="m" d="M508,409.2 L508,467.6"/>
<path class="m" d="M520.4,411 L520.4,465.6"/>
<path class="m" d="M522.6,410.3 L522.6,466.3"/>
<path class="m" d="M493.1,412.6 V419.4 H496.3 V413.4 M493.1,463.8 V457 H496.3 V463" />
<path class="w" d="M493.1,414.1 L470.3,417.2 C459,419 453.6,428 453.6,438.4 C453.6,448.8 459,457.8 470.3,459.6 L493.1,462.7" />
<path class="s" d="M472.6,417.9 Q471.4,438 472.6,458.9 M472.6,417.9 Q473.8,438 472.6,458.9" />
<path class="m" d="M454.4,436.2 H481 M454.4,439.9 H481" />
<path class="w" d="M484,432.4 H531.3 A5.7,5.7 0 0 1 531.3,443.8 H484 A5.7,5.7 0 0 1 484,432.4 Z" />
<circle class="b" cx="484" cy="438.1" r="3.6" />
<circle class="b" cx="527.2" cy="438.1" r="3.6" />
<circle class="m" cx="484" cy="438.1" r="1.3" style="stroke:#fff;stroke-width:0.8" />
<circle class="m" cx="527.2" cy="438.1" r="1.3" style="stroke:#fff;stroke-width:0.8" />
</svg>
</body></html>
